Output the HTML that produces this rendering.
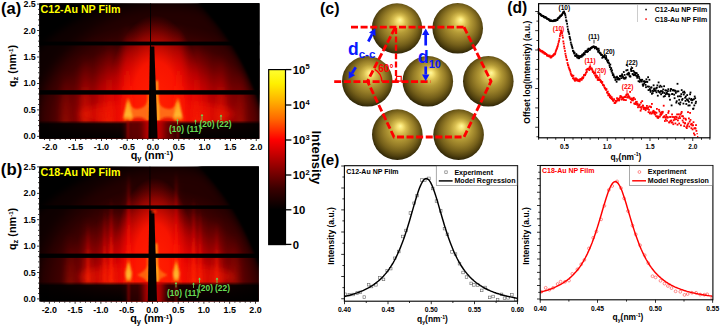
<!DOCTYPE html>
<html><head><meta charset="utf-8"><title>GISAXS figure</title>
<style>
html,body{margin:0;padding:0;background:#fff;}
body{width:721px;height:328px;overflow:hidden;}
svg{display:block;}
svg text{font-family:"Liberation Sans",Arial,sans-serif;font-weight:bold;}
</style></head><body>
<svg width="721" height="328" viewBox="0 0 721 328">
<rect width="721" height="328" fill="#fff"/>

<defs>
<filter id="b1" x="-20%" y="-20%" width="140%" height="140%"><feGaussianBlur stdDeviation="1"/></filter>
<filter id="b2" x="-30%" y="-30%" width="160%" height="160%"><feGaussianBlur stdDeviation="2"/></filter>
<filter id="b3" x="-50%" y="-50%" width="200%" height="200%"><feGaussianBlur stdDeviation="3.5"/></filter>
<filter id="b6" x="-50%" y="-50%" width="200%" height="200%"><feGaussianBlur stdDeviation="6"/></filter>
<filter id="bx" x="-400%" y="-10%" width="900%" height="120%"><feGaussianBlur stdDeviation="3 0.5"/></filter>
<filter id="bx1" x="-300%" y="-10%" width="700%" height="120%"><feGaussianBlur stdDeviation="1.1 0.8"/></filter>
<radialGradient id="glow" cx="0.5" cy="0.5" r="0.5">
 <stop offset="0" stop-color="#f80c00"/>
 <stop offset="0.2" stop-color="#ea0600"/>
 <stop offset="0.38" stop-color="#cc0000"/>
 <stop offset="0.54" stop-color="#a00000"/>
 <stop offset="0.68" stop-color="#6a0000"/>
 <stop offset="0.82" stop-color="#3e0000"/>
 <stop offset="0.93" stop-color="#2c0000"/>
 <stop offset="1" stop-color="#240000"/>
</radialGradient>
<radialGradient id="col" cx="0.5" cy="0.5" r="0.5">
 <stop offset="0" stop-color="#ff2000" stop-opacity="1"/>
 <stop offset="0.5" stop-color="#ff1600" stop-opacity="0.92"/>
 <stop offset="0.78" stop-color="#f40a00" stop-opacity="0.45"/>
 <stop offset="1" stop-color="#e00000" stop-opacity="0"/>
</radialGradient>
<radialGradient id="core" cx="0.5" cy="0.5" r="0.5">
 <stop offset="0" stop-color="#ff5a00" stop-opacity="1"/>
 <stop offset="0.6" stop-color="#ff3000" stop-opacity="0.8"/>
 <stop offset="1" stop-color="#ff1000" stop-opacity="0"/>
</radialGradient>
<linearGradient id="rod" x1="0" y1="1" x2="0" y2="0">
 <stop offset="0" stop-color="#ff2a00" stop-opacity="0.95"/>
 <stop offset="0.35" stop-color="#ff1800" stop-opacity="0.7"/>
 <stop offset="0.7" stop-color="#e00000" stop-opacity="0.35"/>
 <stop offset="1" stop-color="#c00000" stop-opacity="0"/>
</linearGradient>
<linearGradient id="spin" x1="0" y1="0" x2="0" y2="1">
 <stop offset="0" stop-color="#ff7000" stop-opacity="0"/>
 <stop offset="0.3" stop-color="#ffa018" stop-opacity="1"/>
 <stop offset="0.8" stop-color="#ffb830" stop-opacity="1"/>
 <stop offset="1" stop-color="#ff8000" stop-opacity="0.7"/>
</linearGradient>
<linearGradient id="cbar" x1="0" y1="1" x2="0" y2="0">
 <stop offset="0" stop-color="#000"/>
 <stop offset="0.2" stop-color="#000"/>
 <stop offset="0.32" stop-color="#3a0000"/>
 <stop offset="0.42" stop-color="#800000"/>
 <stop offset="0.52" stop-color="#c80000"/>
 <stop offset="0.6" stop-color="#ff0000"/>
 <stop offset="0.72" stop-color="#ff6a00"/>
 <stop offset="0.82" stop-color="#ffb000"/>
 <stop offset="0.92" stop-color="#fff000"/>
 <stop offset="1" stop-color="#ffff30"/>
</linearGradient>
<radialGradient id="gold" cx="0.51" cy="0.47" r="0.56" fx="0.56" fy="0.33">
 <stop offset="0" stop-color="#fff9a0"/>
 <stop offset="0.1" stop-color="#f6e274"/>
 <stop offset="0.22" stop-color="#d8be50"/>
 <stop offset="0.38" stop-color="#b49a36"/>
 <stop offset="0.56" stop-color="#957c27"/>
 <stop offset="0.72" stop-color="#745f1a"/>
 <stop offset="0.85" stop-color="#52420f"/>
 <stop offset="0.94" stop-color="#342a08"/>
 <stop offset="1" stop-color="#201a04"/>
</radialGradient>
<linearGradient id="horiz" x1="0" y1="0" x2="0" y2="1">
 <stop offset="0" stop-color="#000" stop-opacity="0"/>
 <stop offset="0.18" stop-color="#000" stop-opacity="0.9"/>
 <stop offset="1" stop-color="#000" stop-opacity="1"/>
</linearGradient>
</defs>

<clipPath id="hc1"><rect x="39.3" y="3.2" width="220.09999999999997" height="135.60000000000002"/></clipPath>
<g clip-path="url(#hc1)">
<rect x="39.3" y="3.2" width="220.09999999999997" height="135.60000000000002" fill="#240000"/>
<ellipse cx="157.0" cy="120.4" rx="132" ry="98" fill="url(#glow)"/>
<ellipse cx="157.0" cy="114.1" rx="78" ry="13" fill="#f01400" opacity="0.55" filter="url(#b3)"/>
<ellipse cx="155.0" cy="107.2" rx="48" ry="92" fill="url(#col)"/>
<rect x="124.2" y="23.1" width="6" height="100" fill="url(#rod)" opacity="1.0" filter="url(#bx)"/>
<rect x="175.8" y="23.1" width="6" height="100" fill="url(#rod)" opacity="1.0" filter="url(#bx)"/>
<rect x="106.1" y="38.1" width="6" height="85" fill="url(#rod)" opacity="0.8" filter="url(#bx)"/>
<rect x="193.9" y="38.1" width="6" height="85" fill="url(#rod)" opacity="0.8" filter="url(#bx)"/>
<rect x="99.4" y="43.1" width="4" height="80" fill="url(#rod)" opacity="0.6" filter="url(#bx)"/>
<rect x="202.6" y="43.1" width="4" height="80" fill="url(#rod)" opacity="0.6" filter="url(#bx)"/>
<rect x="80.9" y="53.1" width="8" height="70" fill="url(#rod)" opacity="0.55" filter="url(#bx)"/>
<rect x="217.1" y="53.1" width="8" height="70" fill="url(#rod)" opacity="0.55" filter="url(#bx)"/>
<rect x="61.3" y="68.1" width="8" height="55" fill="url(#rod)" opacity="0.3" filter="url(#bx)"/>
<rect x="236.7" y="68.1" width="8" height="55" fill="url(#rod)" opacity="0.3" filter="url(#bx)"/>
<path d="M128.0 97.2 C130.7 108.8 135.5 109.8 138.7 108.8 C145.2 107.8 149.5 102.8 149.5 87.2 L149.5 120.4 L128.0 120.4Z" fill="#ff6a12" opacity="1" filter="url(#b1)"/>
<ellipse cx="138.2" cy="121.4" rx="7.7" ry="4.2" fill="#e81000" opacity="0.9" filter="url(#b1)"/>
<path d="M178.0 97.2 C175.3 108.8 170.5 109.8 167.3 108.8 C160.8 107.8 156.5 102.8 156.5 87.2 L156.5 120.4 L178.0 120.4Z" fill="#ff6a12" opacity="1" filter="url(#b1)"/>
<ellipse cx="167.8" cy="121.4" rx="7.7" ry="4.2" fill="#e81000" opacity="0.9" filter="url(#b1)"/>
<path d="M128.0 96.1 Q130.4 107.0 132.8 118.0 L131.3 120.4 L124.6 120.4 L123.2 118.0 Q125.6 107.0 128.0 96.1Z" fill="url(#spin)" filter="url(#bx1)"/>
<path d="M178.0 96.1 Q180.4 107.0 182.8 118.0 L181.4 120.4 L174.7 120.4 L173.2 118.0 Q175.6 107.0 178.0 96.1Z" fill="url(#spin)" filter="url(#bx1)"/>
<path d="M155.9 80.8 L157.2 123.1 h1.8 L157.7 80.8Z" fill="#ffd820" filter="url(#bx1)"/>
<rect x="147.6" y="91.3" width="1.6" height="31.7" fill="#ff8a10" filter="url(#bx1)" opacity="0.85"/>
<rect x="39.3" y="120.4" width="220.09999999999997" height="19.4" fill="url(#horiz)"/>
<rect x="126.0" y="121.4" width="50" height="18.4" fill="#7a0000" opacity="0.75" filter="url(#bx)"/>
<rect x="144.0" y="120.4" width="20" height="18.4" fill="#d80000" opacity="0.8" filter="url(#bx)"/>
<rect x="127.0" y="120.4" width="2" height="18.4" fill="#b00000" opacity="0.7" filter="url(#bx1)"/>
<rect x="177.0" y="120.4" width="2" height="18.4" fill="#b00000" opacity="0.7" filter="url(#bx1)"/>
<path d="M20 -20 H280 V160 H20 Z M36 52 C50 36 78 16 112 5 C150 -3 185 -3 199 3.5 C228 34 248 66 262 112 V150 H36 Z" fill="#000" fill-rule="evenodd" filter="url(#b3)"/>
<path d="M199 3 C228 34 248 66 262 112 V-5 H199Z" fill="#000" filter="url(#b1)"/>
<path d="M20 -20 H280 V160 H20 Z M36 118 C40 70 80 26 130 12 C160 4 190 6 206 12 C236 40 256 80 266 122 V150 H36 Z" fill="#000" fill-rule="evenodd" opacity="0.6" filter="url(#b6)"/>
<rect x="39.3" y="41.6" width="220.09999999999997" height="3.799999999999997" fill="#000"/>
<rect x="39.3" y="90.2" width="220.09999999999997" height="4.3999999999999915" fill="#000"/>
<path d="M149.9 46.5 H154.3 L157.6 138.8 H148.4 Z" fill="#050000"/>
<rect x="150.1" y="3.2" width="0.9" height="135.60000000000002" fill="#000"/>
</g>
<clipPath id="hc2"><rect x="39.3" y="166.4" width="219.5" height="135.1"/></clipPath>
<g clip-path="url(#hc2)">
<rect x="39.3" y="166.4" width="219.5" height="135.1" fill="#240000"/>
<ellipse cx="156.4" cy="283.1" rx="118" ry="95" fill="url(#glow)"/>
<ellipse cx="156.4" cy="276.7" rx="78" ry="13" fill="#f01400" opacity="0.55" filter="url(#b3)"/>
<ellipse cx="154.4" cy="269.9" rx="42" ry="92" fill="url(#col)"/>
<rect x="126.7" y="175.7" width="3.5" height="110" fill="url(#rod)" opacity="1.0" filter="url(#bx)"/>
<rect x="174.6" y="175.7" width="3.5" height="110" fill="url(#rod)" opacity="1.0" filter="url(#bx)"/>
<rect x="126.9" y="215.7" width="3" height="70" fill="url(#rod)" opacity="1.0" filter="url(#bx)"/>
<rect x="174.9" y="215.7" width="3" height="70" fill="url(#rod)" opacity="1.0" filter="url(#bx)"/>
<rect x="108.2" y="200.7" width="6" height="85" fill="url(#rod)" opacity="0.8" filter="url(#bx)"/>
<rect x="190.6" y="200.7" width="6" height="85" fill="url(#rod)" opacity="0.8" filter="url(#bx)"/>
<rect x="102.5" y="205.7" width="4" height="80" fill="url(#rod)" opacity="0.6" filter="url(#bx)"/>
<rect x="198.3" y="205.7" width="4" height="80" fill="url(#rod)" opacity="0.6" filter="url(#bx)"/>
<rect x="84.0" y="215.7" width="8" height="70" fill="url(#rod)" opacity="0.55" filter="url(#bx)"/>
<rect x="212.8" y="215.7" width="8" height="70" fill="url(#rod)" opacity="0.55" filter="url(#bx)"/>
<rect x="65.9" y="230.7" width="8" height="55" fill="url(#rod)" opacity="0.3" filter="url(#bx)"/>
<rect x="230.9" y="230.7" width="8" height="55" fill="url(#rod)" opacity="0.3" filter="url(#bx)"/>
<rect x="127.3" y="169.7" width="2.6" height="112" fill="url(#rod)" opacity="1.0" filter="url(#bx1)"/>
<rect x="174.9" y="169.7" width="2.6" height="112" fill="url(#rod)" opacity="1.0" filter="url(#bx1)"/>
<rect x="109.9" y="196.7" width="2.6" height="85" fill="url(#rod)" opacity="0.85" filter="url(#bx1)"/>
<rect x="192.3" y="196.7" width="2.6" height="85" fill="url(#rod)" opacity="0.85" filter="url(#bx1)"/>
<rect x="103.4" y="206.7" width="2.2" height="75" fill="url(#rod)" opacity="0.7" filter="url(#bx1)"/>
<rect x="199.2" y="206.7" width="2.2" height="75" fill="url(#rod)" opacity="0.7" filter="url(#bx1)"/>
<rect x="86.5" y="221.7" width="3" height="60" fill="url(#rod)" opacity="0.5" filter="url(#bx1)"/>
<rect x="215.3" y="221.7" width="3" height="60" fill="url(#rod)" opacity="0.5" filter="url(#bx1)"/>
<path d="M128.6 257.7 Q130.2 265.4 131.8 273.1 L130.8 281.7 L126.3 281.7 L125.4 273.1 Q127.0 265.4 128.6 257.7Z" fill="url(#spin)" filter="url(#bx1)"/>
<path d="M176.2 257.7 Q177.8 265.4 179.4 273.1 L178.5 281.7 L174.0 281.7 L173.0 273.1 Q174.6 265.4 176.2 257.7Z" fill="url(#spin)" filter="url(#bx1)"/>
<path d="M149.2 264.1 Q144.4 272.1 137.2 275.1 Q144.4 278.1 149.2 282.5Z" fill="#ff6a10" opacity="0.9" filter="url(#b1)"/>
<path d="M155.6 264.1 Q160.4 272.1 167.6 275.1 Q160.4 278.1 155.6 282.5Z" fill="#ff6a10" opacity="0.9" filter="url(#b1)"/>
<path d="M155.3 243.5 L156.6 285.7 h1.8 L157.1 243.5Z" fill="#ffd820" filter="url(#bx1)"/>
<rect x="147.0" y="254.0" width="1.6" height="31.7" fill="#ff8a10" filter="url(#bx1)" opacity="0.85"/>
<rect x="39.3" y="281.7" width="219.5" height="20.8" fill="url(#horiz)"/>
<rect x="126.4" y="282.7" width="48" height="19.8" fill="#7a0000" opacity="0.3" filter="url(#bx)"/>
<rect x="143.4" y="281.7" width="20" height="19.8" fill="#d80000" opacity="0.8" filter="url(#bx)"/>
<rect x="127.6" y="281.7" width="2" height="19.8" fill="#b00000" opacity="0.7" filter="url(#bx1)"/>
<rect x="175.2" y="281.7" width="2" height="19.8" fill="#b00000" opacity="0.7" filter="url(#bx1)"/>
<path d="M20 140 H280 V330 H20 Z M36 215 C50 199 78 179 112 168 C150 160 185 160 199 166.5 C228 197 248 229 262 275 V315 H36 Z" fill="#000" fill-rule="evenodd" filter="url(#b3)"/>
<path d="M199 166 C228 197 248 229 262 275 V158 H199Z" fill="#000" filter="url(#b1)"/>
<path d="M20 140 H280 V330 H20 Z M36 281 C40 233 80 189 130 175 C160 167 190 169 206 175 C236 203 256 243 266 285 V315 H36 Z" fill="#000" fill-rule="evenodd" opacity="0.6" filter="url(#b6)"/>
<rect x="39.3" y="205.4" width="219.5" height="3.5" fill="#000"/>
<rect x="39.3" y="253.6" width="219.5" height="4.299999999999983" fill="#000"/>
<path d="M149.3 210.4 H154.3 L157.0 301.5 H147.8 Z" fill="#050000"/>
<ellipse cx="154.0" cy="211.6" rx="2.6" ry="1.5" fill="#ff3000" filter="url(#bx1)"/>
<rect x="149.5" y="166.4" width="0.9" height="135.1" fill="#000"/>
</g>
<rect x="44.2" y="138.8" width="0.8" height="1.2" fill="#000"/>
<rect x="49.4" y="138.8" width="0.8" height="2.2" fill="#000"/>
<rect x="54.6" y="138.8" width="0.8" height="1.2" fill="#000"/>
<rect x="59.7" y="138.8" width="0.8" height="1.2" fill="#000"/>
<rect x="64.9" y="138.8" width="0.8" height="1.2" fill="#000"/>
<rect x="70.0" y="138.8" width="0.8" height="1.2" fill="#000"/>
<rect x="75.2" y="138.8" width="0.8" height="2.2" fill="#000"/>
<rect x="80.4" y="138.8" width="0.8" height="1.2" fill="#000"/>
<rect x="85.5" y="138.8" width="0.8" height="1.2" fill="#000"/>
<rect x="90.7" y="138.8" width="0.8" height="1.2" fill="#000"/>
<rect x="95.8" y="138.8" width="0.8" height="1.2" fill="#000"/>
<rect x="101.0" y="138.8" width="0.8" height="2.2" fill="#000"/>
<rect x="106.2" y="138.8" width="0.8" height="1.2" fill="#000"/>
<rect x="111.3" y="138.8" width="0.8" height="1.2" fill="#000"/>
<rect x="116.5" y="138.8" width="0.8" height="1.2" fill="#000"/>
<rect x="121.6" y="138.8" width="0.8" height="1.2" fill="#000"/>
<rect x="126.8" y="138.8" width="0.8" height="2.2" fill="#000"/>
<rect x="132.0" y="138.8" width="0.8" height="1.2" fill="#000"/>
<rect x="137.1" y="138.8" width="0.8" height="1.2" fill="#000"/>
<rect x="142.3" y="138.8" width="0.8" height="1.2" fill="#000"/>
<rect x="147.4" y="138.8" width="0.8" height="1.2" fill="#000"/>
<rect x="152.6" y="138.8" width="0.8" height="2.2" fill="#000"/>
<rect x="157.8" y="138.8" width="0.8" height="1.2" fill="#000"/>
<rect x="162.9" y="138.8" width="0.8" height="1.2" fill="#000"/>
<rect x="168.1" y="138.8" width="0.8" height="1.2" fill="#000"/>
<rect x="173.2" y="138.8" width="0.8" height="1.2" fill="#000"/>
<rect x="178.4" y="138.8" width="0.8" height="2.2" fill="#000"/>
<rect x="183.6" y="138.8" width="0.8" height="1.2" fill="#000"/>
<rect x="188.7" y="138.8" width="0.8" height="1.2" fill="#000"/>
<rect x="193.9" y="138.8" width="0.8" height="1.2" fill="#000"/>
<rect x="199.0" y="138.8" width="0.8" height="1.2" fill="#000"/>
<rect x="204.2" y="138.8" width="0.8" height="2.2" fill="#000"/>
<rect x="209.4" y="138.8" width="0.8" height="1.2" fill="#000"/>
<rect x="214.5" y="138.8" width="0.8" height="1.2" fill="#000"/>
<rect x="219.7" y="138.8" width="0.8" height="1.2" fill="#000"/>
<rect x="224.8" y="138.8" width="0.8" height="1.2" fill="#000"/>
<rect x="230.0" y="138.8" width="0.8" height="2.2" fill="#000"/>
<rect x="235.2" y="138.8" width="0.8" height="1.2" fill="#000"/>
<rect x="240.3" y="138.8" width="0.8" height="1.2" fill="#000"/>
<rect x="245.5" y="138.8" width="0.8" height="1.2" fill="#000"/>
<rect x="250.6" y="138.8" width="0.8" height="1.2" fill="#000"/>
<rect x="255.8" y="138.8" width="0.8" height="2.2" fill="#000"/>
<rect x="37.099999999999994" y="135.9" width="2.2" height="0.8" fill="#000"/>
<rect x="38.099999999999994" y="130.6" width="1.2" height="0.8" fill="#000"/>
<rect x="38.099999999999994" y="125.3" width="1.2" height="0.8" fill="#000"/>
<rect x="38.099999999999994" y="120.0" width="1.2" height="0.8" fill="#000"/>
<rect x="38.099999999999994" y="114.7" width="1.2" height="0.8" fill="#000"/>
<rect x="37.099999999999994" y="109.5" width="2.2" height="0.8" fill="#000"/>
<rect x="38.099999999999994" y="104.2" width="1.2" height="0.8" fill="#000"/>
<rect x="38.099999999999994" y="98.9" width="1.2" height="0.8" fill="#000"/>
<rect x="38.099999999999994" y="93.6" width="1.2" height="0.8" fill="#000"/>
<rect x="38.099999999999994" y="88.3" width="1.2" height="0.8" fill="#000"/>
<rect x="37.099999999999994" y="83.0" width="2.2" height="0.8" fill="#000"/>
<rect x="38.099999999999994" y="77.7" width="1.2" height="0.8" fill="#000"/>
<rect x="38.099999999999994" y="72.4" width="1.2" height="0.8" fill="#000"/>
<rect x="38.099999999999994" y="67.1" width="1.2" height="0.8" fill="#000"/>
<rect x="38.099999999999994" y="61.8" width="1.2" height="0.8" fill="#000"/>
<rect x="37.099999999999994" y="56.6" width="2.2" height="0.8" fill="#000"/>
<rect x="38.099999999999994" y="51.3" width="1.2" height="0.8" fill="#000"/>
<rect x="38.099999999999994" y="46.0" width="1.2" height="0.8" fill="#000"/>
<rect x="38.099999999999994" y="40.7" width="1.2" height="0.8" fill="#000"/>
<rect x="38.099999999999994" y="35.4" width="1.2" height="0.8" fill="#000"/>
<rect x="37.099999999999994" y="30.1" width="2.2" height="0.8" fill="#000"/>
<rect x="38.099999999999994" y="24.8" width="1.2" height="0.8" fill="#000"/>
<rect x="38.099999999999994" y="19.5" width="1.2" height="0.8" fill="#000"/>
<rect x="38.099999999999994" y="14.2" width="1.2" height="0.8" fill="#000"/>
<rect x="38.099999999999994" y="8.9" width="1.2" height="0.8" fill="#000"/>
<rect x="37.099999999999994" y="3.7" width="2.2" height="0.8" fill="#000"/>
<text x="49.8" y="149.7" font-size="8.9" fill="#000" text-anchor="middle" >-2.0</text>
<text x="75.6" y="149.7" font-size="8.9" fill="#000" text-anchor="middle" >-1.5</text>
<text x="101.4" y="149.7" font-size="8.9" fill="#000" text-anchor="middle" >-1.0</text>
<text x="127.2" y="149.7" font-size="8.9" fill="#000" text-anchor="middle" >-0.5</text>
<text x="153.0" y="149.7" font-size="8.9" fill="#000" text-anchor="middle" >0.0</text>
<text x="178.8" y="149.7" font-size="8.9" fill="#000" text-anchor="middle" >0.5</text>
<text x="204.6" y="149.7" font-size="8.9" fill="#000" text-anchor="middle" >1.0</text>
<text x="230.4" y="149.7" font-size="8.9" fill="#000" text-anchor="middle" >1.5</text>
<text x="256.2" y="149.7" font-size="8.9" fill="#000" text-anchor="middle" >2.0</text>
<text x="35.8" y="139.3" font-size="8.9" fill="#000" text-anchor="end" >0.0</text>
<text x="35.8" y="112.9" font-size="8.9" fill="#000" text-anchor="end" >0.5</text>
<text x="35.8" y="86.4" font-size="8.9" fill="#000" text-anchor="end" >1.0</text>
<text x="35.8" y="60.0" font-size="8.9" fill="#000" text-anchor="end" >1.5</text>
<text x="35.8" y="33.5" font-size="8.9" fill="#000" text-anchor="end" >2.0</text>
<text x="35.8" y="7.1" font-size="8.9" fill="#000" text-anchor="end" >2.5</text>
<text x="152.0" y="158.89999999999998" font-size="10.8" text-anchor="middle">q<tspan font-size="7.5" dy="2">y</tspan><tspan dy="-2"> (nm</tspan><tspan font-size="6" dy="-3.5">-1</tspan><tspan dy="3.5">)</tspan></text>
<text transform="translate(16 66.0) rotate(-90)" font-size="10.8" text-anchor="middle">q<tspan font-size="7.5" dy="2">z</tspan><tspan dy="-2"> (nm</tspan><tspan font-size="6" dy="-3.5">-1</tspan><tspan dy="3.5">)</tspan></text>
<text x="40.5" y="12.5" font-size="10.7" fill="#ffff00" text-anchor="start" >C12-Au NP Film</text>
<text x="1.0" y="13.6" font-size="16.5" fill="#000" text-anchor="start" >(a)</text>
<text x="176.5" y="132" font-size="8.4" fill="#66dd55" text-anchor="middle" >(10)</text>
<path d="M177.5 124.5 V119.5" stroke="#66dd55" stroke-width="0.8"/><path d="M176.2 121.1 L177.5 118.9 L178.8 121.1Z" fill="#66dd55"/>
<text x="194" y="132" font-size="8.4" fill="#66dd55" text-anchor="middle" >(11)</text>
<path d="M195.5 124.5 V120" stroke="#66dd55" stroke-width="0.8"/><path d="M194.2 121.6 L195.5 119.4 L196.8 121.6Z" fill="#66dd55"/>
<text x="207" y="127.3" font-size="8.4" fill="#66dd55" text-anchor="middle" >(20)</text>
<path d="M202 120 V114.5" stroke="#66dd55" stroke-width="0.8"/><path d="M200.7 116.1 L202 113.9 L203.3 116.1Z" fill="#66dd55"/>
<text x="224" y="127.3" font-size="8.4" fill="#66dd55" text-anchor="middle" >(22)</text>
<path d="M221 120 V115" stroke="#66dd55" stroke-width="0.8"/><path d="M219.7 116.6 L221 114.4 L222.3 116.6Z" fill="#66dd55"/>
<rect x="43.7" y="301.5" width="0.8" height="1.2" fill="#000"/>
<rect x="48.9" y="301.5" width="0.8" height="2.2" fill="#000"/>
<rect x="54.1" y="301.5" width="0.8" height="1.2" fill="#000"/>
<rect x="59.2" y="301.5" width="0.8" height="1.2" fill="#000"/>
<rect x="64.4" y="301.5" width="0.8" height="1.2" fill="#000"/>
<rect x="69.5" y="301.5" width="0.8" height="1.2" fill="#000"/>
<rect x="74.7" y="301.5" width="0.8" height="2.2" fill="#000"/>
<rect x="79.8" y="301.5" width="0.8" height="1.2" fill="#000"/>
<rect x="85.0" y="301.5" width="0.8" height="1.2" fill="#000"/>
<rect x="90.1" y="301.5" width="0.8" height="1.2" fill="#000"/>
<rect x="95.3" y="301.5" width="0.8" height="1.2" fill="#000"/>
<rect x="100.5" y="301.5" width="0.8" height="2.2" fill="#000"/>
<rect x="105.6" y="301.5" width="0.8" height="1.2" fill="#000"/>
<rect x="110.8" y="301.5" width="0.8" height="1.2" fill="#000"/>
<rect x="115.9" y="301.5" width="0.8" height="1.2" fill="#000"/>
<rect x="121.1" y="301.5" width="0.8" height="1.2" fill="#000"/>
<rect x="126.2" y="301.5" width="0.8" height="2.2" fill="#000"/>
<rect x="131.4" y="301.5" width="0.8" height="1.2" fill="#000"/>
<rect x="136.5" y="301.5" width="0.8" height="1.2" fill="#000"/>
<rect x="141.7" y="301.5" width="0.8" height="1.2" fill="#000"/>
<rect x="146.8" y="301.5" width="0.8" height="1.2" fill="#000"/>
<rect x="152.0" y="301.5" width="0.8" height="2.2" fill="#000"/>
<rect x="157.2" y="301.5" width="0.8" height="1.2" fill="#000"/>
<rect x="162.3" y="301.5" width="0.8" height="1.2" fill="#000"/>
<rect x="167.5" y="301.5" width="0.8" height="1.2" fill="#000"/>
<rect x="172.6" y="301.5" width="0.8" height="1.2" fill="#000"/>
<rect x="177.8" y="301.5" width="0.8" height="2.2" fill="#000"/>
<rect x="182.9" y="301.5" width="0.8" height="1.2" fill="#000"/>
<rect x="188.1" y="301.5" width="0.8" height="1.2" fill="#000"/>
<rect x="193.2" y="301.5" width="0.8" height="1.2" fill="#000"/>
<rect x="198.4" y="301.5" width="0.8" height="1.2" fill="#000"/>
<rect x="203.5" y="301.5" width="0.8" height="2.2" fill="#000"/>
<rect x="208.7" y="301.5" width="0.8" height="1.2" fill="#000"/>
<rect x="213.9" y="301.5" width="0.8" height="1.2" fill="#000"/>
<rect x="219.0" y="301.5" width="0.8" height="1.2" fill="#000"/>
<rect x="224.2" y="301.5" width="0.8" height="1.2" fill="#000"/>
<rect x="229.3" y="301.5" width="0.8" height="2.2" fill="#000"/>
<rect x="234.5" y="301.5" width="0.8" height="1.2" fill="#000"/>
<rect x="239.6" y="301.5" width="0.8" height="1.2" fill="#000"/>
<rect x="244.8" y="301.5" width="0.8" height="1.2" fill="#000"/>
<rect x="249.9" y="301.5" width="0.8" height="1.2" fill="#000"/>
<rect x="255.1" y="301.5" width="0.8" height="2.2" fill="#000"/>
<rect x="37.099999999999994" y="298.5" width="2.2" height="0.8" fill="#000"/>
<rect x="38.099999999999994" y="293.2" width="1.2" height="0.8" fill="#000"/>
<rect x="38.099999999999994" y="287.9" width="1.2" height="0.8" fill="#000"/>
<rect x="38.099999999999994" y="282.7" width="1.2" height="0.8" fill="#000"/>
<rect x="38.099999999999994" y="277.4" width="1.2" height="0.8" fill="#000"/>
<rect x="37.099999999999994" y="272.1" width="2.2" height="0.8" fill="#000"/>
<rect x="38.099999999999994" y="266.8" width="1.2" height="0.8" fill="#000"/>
<rect x="38.099999999999994" y="261.5" width="1.2" height="0.8" fill="#000"/>
<rect x="38.099999999999994" y="256.3" width="1.2" height="0.8" fill="#000"/>
<rect x="38.099999999999994" y="251.0" width="1.2" height="0.8" fill="#000"/>
<rect x="37.099999999999994" y="245.7" width="2.2" height="0.8" fill="#000"/>
<rect x="38.099999999999994" y="240.4" width="1.2" height="0.8" fill="#000"/>
<rect x="38.099999999999994" y="235.1" width="1.2" height="0.8" fill="#000"/>
<rect x="38.099999999999994" y="229.9" width="1.2" height="0.8" fill="#000"/>
<rect x="38.099999999999994" y="224.6" width="1.2" height="0.8" fill="#000"/>
<rect x="37.099999999999994" y="219.3" width="2.2" height="0.8" fill="#000"/>
<rect x="38.099999999999994" y="214.0" width="1.2" height="0.8" fill="#000"/>
<rect x="38.099999999999994" y="208.7" width="1.2" height="0.8" fill="#000"/>
<rect x="38.099999999999994" y="203.5" width="1.2" height="0.8" fill="#000"/>
<rect x="38.099999999999994" y="198.2" width="1.2" height="0.8" fill="#000"/>
<rect x="37.099999999999994" y="192.9" width="2.2" height="0.8" fill="#000"/>
<rect x="38.099999999999994" y="187.6" width="1.2" height="0.8" fill="#000"/>
<rect x="38.099999999999994" y="182.3" width="1.2" height="0.8" fill="#000"/>
<rect x="38.099999999999994" y="177.1" width="1.2" height="0.8" fill="#000"/>
<rect x="38.099999999999994" y="171.8" width="1.2" height="0.8" fill="#000"/>
<rect x="37.099999999999994" y="166.5" width="2.2" height="0.8" fill="#000"/>
<text x="49.3" y="312.8" font-size="8.9" fill="#000" text-anchor="middle" >-2.0</text>
<text x="75.1" y="312.8" font-size="8.9" fill="#000" text-anchor="middle" >-1.5</text>
<text x="100.9" y="312.8" font-size="8.9" fill="#000" text-anchor="middle" >-1.0</text>
<text x="126.6" y="312.8" font-size="8.9" fill="#000" text-anchor="middle" >-0.5</text>
<text x="152.4" y="312.8" font-size="8.9" fill="#000" text-anchor="middle" >0.0</text>
<text x="178.2" y="312.8" font-size="8.9" fill="#000" text-anchor="middle" >0.5</text>
<text x="203.9" y="312.8" font-size="8.9" fill="#000" text-anchor="middle" >1.0</text>
<text x="229.7" y="312.8" font-size="8.9" fill="#000" text-anchor="middle" >1.5</text>
<text x="255.5" y="312.8" font-size="8.9" fill="#000" text-anchor="middle" >2.0</text>
<text x="35.8" y="301.9" font-size="8.9" fill="#000" text-anchor="end" >0.0</text>
<text x="35.8" y="275.5" font-size="8.9" fill="#000" text-anchor="end" >0.5</text>
<text x="35.8" y="249.1" font-size="8.9" fill="#000" text-anchor="end" >1.0</text>
<text x="35.8" y="222.7" font-size="8.9" fill="#000" text-anchor="end" >1.5</text>
<text x="35.8" y="196.3" font-size="8.9" fill="#000" text-anchor="end" >2.0</text>
<text x="35.8" y="169.9" font-size="8.9" fill="#000" text-anchor="end" >2.5</text>
<text x="151.4" y="322.0" font-size="10.8" text-anchor="middle">q<tspan font-size="7.5" dy="2">y</tspan><tspan dy="-2"> (nm</tspan><tspan font-size="6" dy="-3.5">-1</tspan><tspan dy="3.5">)</tspan></text>
<text transform="translate(16 228.95) rotate(-90)" font-size="10.8" text-anchor="middle">q<tspan font-size="7.5" dy="2">z</tspan><tspan dy="-2"> (nm</tspan><tspan font-size="6" dy="-3.5">-1</tspan><tspan dy="3.5">)</tspan></text>
<text x="40.5" y="175.70000000000002" font-size="10.7" fill="#ffff00" text-anchor="start" >C18-Au NP Film</text>
<text x="0.8" y="175.2" font-size="16.8" fill="#000" text-anchor="start" >(b)</text>
<text x="174.5" y="295.5" font-size="8.4" fill="#66dd55" text-anchor="middle" >(10)</text>
<path d="M176 287.5 V282.5" stroke="#66dd55" stroke-width="0.8"/><path d="M174.7 284.1 L176 281.9 L177.3 284.1Z" fill="#66dd55"/>
<text x="192" y="295.5" font-size="8.4" fill="#66dd55" text-anchor="middle" >(11)</text>
<path d="M193.5 288 V283" stroke="#66dd55" stroke-width="0.8"/><path d="M192.2 284.6 L193.5 282.4 L194.8 284.6Z" fill="#66dd55"/>
<text x="205.5" y="290.5" font-size="8.4" fill="#66dd55" text-anchor="middle" >(20)</text>
<path d="M199.5 283 V278" stroke="#66dd55" stroke-width="0.8"/><path d="M198.2 279.6 L199.5 277.4 L200.8 279.6Z" fill="#66dd55"/>
<text x="222.5" y="290.5" font-size="8.4" fill="#66dd55" text-anchor="middle" >(22)</text>
<path d="M217 283 V278" stroke="#66dd55" stroke-width="0.8"/><path d="M215.7 279.6 L217 277.4 L218.3 279.6Z" fill="#66dd55"/>
<rect x="268.7" y="69.6" width="16.8" height="175" fill="url(#cbar)" stroke="#000" stroke-width="1.2"/>
<rect x="286" y="68.94999999999999" width="5.4" height="1.3" fill="#000"/>
<text x="292.8" y="73.69999999999999" font-size="11.3">10<tspan font-size="7.5" dy="-4.5">5</tspan></text>
<rect x="286" y="104.35" width="5.4" height="1.3" fill="#000"/>
<text x="292.8" y="109.1" font-size="11.3">10<tspan font-size="7.5" dy="-4.5">4</tspan></text>
<rect x="286" y="139.35" width="5.4" height="1.3" fill="#000"/>
<text x="292.8" y="144.1" font-size="11.3">10<tspan font-size="7.5" dy="-4.5">3</tspan></text>
<rect x="286" y="174.35" width="5.4" height="1.3" fill="#000"/>
<text x="292.8" y="179.1" font-size="11.3">10<tspan font-size="7.5" dy="-4.5">2</tspan></text>
<rect x="286" y="209.15" width="5.4" height="1.3" fill="#000"/>
<text x="292.8" y="213.9" font-size="11.3">10</text>
<rect x="286" y="243.75" width="5.4" height="1.3" fill="#000"/>
<text x="292.8" y="248.5" font-size="11.3">0</text>
<text transform="translate(311.6 157.4) rotate(90)" font-size="13.1" text-anchor="middle">Intensity</text>
<text x="320" y="13.8" font-size="16" fill="#000" text-anchor="start" >(c)</text>
<circle cx="397" cy="28.5" r="25.3" fill="url(#gold)"/>
<circle cx="457.7" cy="28.3" r="25.3" fill="url(#gold)"/>
<circle cx="367.3" cy="81.3" r="25.3" fill="url(#gold)"/>
<circle cx="427.8" cy="81.3" r="25.3" fill="url(#gold)"/>
<circle cx="488.3" cy="81.3" r="25.3" fill="url(#gold)"/>
<circle cx="397.3" cy="134.6" r="25.3" fill="url(#gold)"/>
<circle cx="458.6" cy="134.6" r="25.3" fill="url(#gold)"/>
<g stroke="#ff0000" stroke-width="2.8" fill="none">
<path d="M351 27.2 H464" stroke-dasharray="7 2.6"/>
<path d="M334.2 81.6 H430.5" stroke-dasharray="7 2.6"/>
<path d="M464 27.2 L491 81.3 L464 137 H394 L367.5 81.3 L395 27.9" stroke-dasharray="7 2.6"/>
<path d="M396 28 V81" stroke-width="2.3" stroke-dasharray="6 2.4"/>
<rect x="396.5" y="76.4" width="4.7" height="4.7" stroke-width="1.2"/>
<path d="M374.7 69.4 A14.2 14.2 0 0 1 381.8 81.6" stroke-width="1.3"/>
</g>
<text x="378.3" y="71.8" font-size="10" fill="#ff0000" text-anchor="start" >60°</text>
<text x="348" y="55.2" font-size="17.5" fill="#0a18ff">d<tspan font-size="11.5" dy="3.2">c-c</tspan></text>
<text x="418" y="63.3" font-size="17.5" fill="#0a18ff">d<tspan font-size="11" dy="4.2">10</tspan></text>
<path d="M368.3 41.5 L372.2 34.2" stroke="#0a18ff" stroke-width="2.7"/><path d="M375.3 28.5 L375.5 36.0 L369.0 32.5Z" fill="#0a18ff"/>
<path d="M355.7 67.2 L352.0 73.3" stroke="#0a18ff" stroke-width="2.7"/><path d="M348.6 78.8 L348.8 71.3 L355.1 75.2Z" fill="#0a18ff"/>
<path d="M425.7 45.5 L425.7 35.0" stroke="#0a18ff" stroke-width="2.7"/><path d="M425.7 28.5 L429.4 35.0 L422.0 35.0Z" fill="#0a18ff"/>
<path d="M425.7 66.5 L425.7 74.5" stroke="#0a18ff" stroke-width="2.7"/><path d="M425.7 81.0 L422.0 74.5 L429.4 74.5Z" fill="#0a18ff"/>
<g fill="#000">
<rect x="537.6" y="12.2" width="1.8" height="1.8"/>
<rect x="538.0" y="12.8" width="1.8" height="1.8"/>
<rect x="538.4" y="12.8" width="1.8" height="1.8"/>
<rect x="538.9" y="13.0" width="1.8" height="1.8"/>
<rect x="539.3" y="13.1" width="1.8" height="1.8"/>
<rect x="539.7" y="13.6" width="1.8" height="1.8"/>
<rect x="540.1" y="14.4" width="1.8" height="1.8"/>
<rect x="540.5" y="14.4" width="1.8" height="1.8"/>
<rect x="541.0" y="14.9" width="1.8" height="1.8"/>
<rect x="541.4" y="14.9" width="1.8" height="1.8"/>
<rect x="541.8" y="15.2" width="1.8" height="1.8"/>
<rect x="542.2" y="15.4" width="1.8" height="1.8"/>
<rect x="542.6" y="15.1" width="1.8" height="1.8"/>
<rect x="543.1" y="16.2" width="1.8" height="1.8"/>
<rect x="543.5" y="16.4" width="1.8" height="1.8"/>
<rect x="543.9" y="16.6" width="1.8" height="1.8"/>
<rect x="544.3" y="16.1" width="1.8" height="1.8"/>
<rect x="544.7" y="16.3" width="1.8" height="1.8"/>
<rect x="545.2" y="16.8" width="1.8" height="1.8"/>
<rect x="545.6" y="17.2" width="1.8" height="1.8"/>
<rect x="546.0" y="17.7" width="1.8" height="1.8"/>
<rect x="546.4" y="17.8" width="1.8" height="1.8"/>
<rect x="546.8" y="18.2" width="1.8" height="1.8"/>
<rect x="547.3" y="18.0" width="1.8" height="1.8"/>
<rect x="547.7" y="18.6" width="1.8" height="1.8"/>
<rect x="548.1" y="18.9" width="1.8" height="1.8"/>
<rect x="548.5" y="18.7" width="1.8" height="1.8"/>
<rect x="548.9" y="19.8" width="1.8" height="1.8"/>
<rect x="549.4" y="19.6" width="1.8" height="1.8"/>
<rect x="549.8" y="20.0" width="1.8" height="1.8"/>
<rect x="550.2" y="19.6" width="1.8" height="1.8"/>
<rect x="550.6" y="19.8" width="1.8" height="1.8"/>
<rect x="551.0" y="20.1" width="1.8" height="1.8"/>
<rect x="551.5" y="20.2" width="1.8" height="1.8"/>
<rect x="551.9" y="20.3" width="1.8" height="1.8"/>
<rect x="552.3" y="20.1" width="1.8" height="1.8"/>
<rect x="552.7" y="19.8" width="1.8" height="1.8"/>
<rect x="553.1" y="19.5" width="1.8" height="1.8"/>
<rect x="553.6" y="19.5" width="1.8" height="1.8"/>
<rect x="554.0" y="20.0" width="1.8" height="1.8"/>
<rect x="554.4" y="19.2" width="1.8" height="1.8"/>
<rect x="554.8" y="19.5" width="1.8" height="1.8"/>
<rect x="555.2" y="19.5" width="1.8" height="1.8"/>
<rect x="555.7" y="18.7" width="1.8" height="1.8"/>
<rect x="556.1" y="19.0" width="1.8" height="1.8"/>
<rect x="556.5" y="19.1" width="1.8" height="1.8"/>
<rect x="556.9" y="17.5" width="1.8" height="1.8"/>
<rect x="557.3" y="17.6" width="1.8" height="1.8"/>
<rect x="557.8" y="17.2" width="1.8" height="1.8"/>
<rect x="558.2" y="16.5" width="1.8" height="1.8"/>
<rect x="558.6" y="16.5" width="1.8" height="1.8"/>
<rect x="559.0" y="15.8" width="1.8" height="1.8"/>
<rect x="559.4" y="14.8" width="1.8" height="1.8"/>
<rect x="559.9" y="15.2" width="1.8" height="1.8"/>
<rect x="560.3" y="14.6" width="1.8" height="1.8"/>
<rect x="560.7" y="14.2" width="1.8" height="1.8"/>
<rect x="561.1" y="13.8" width="1.8" height="1.8"/>
<rect x="561.5" y="12.9" width="1.8" height="1.8"/>
<rect x="562.0" y="12.2" width="1.8" height="1.8"/>
<rect x="562.4" y="11.2" width="1.8" height="1.8"/>
<rect x="562.8" y="11.4" width="1.8" height="1.8"/>
<rect x="563.2" y="11.1" width="1.8" height="1.8"/>
<rect x="563.6" y="12.1" width="1.8" height="1.8"/>
<rect x="564.1" y="13.1" width="1.8" height="1.8"/>
<rect x="564.5" y="14.5" width="1.8" height="1.8"/>
<rect x="564.9" y="16.5" width="1.8" height="1.8"/>
<rect x="565.3" y="19.4" width="1.8" height="1.8"/>
<rect x="565.7" y="20.5" width="1.8" height="1.8"/>
<rect x="566.2" y="22.9" width="1.8" height="1.8"/>
<rect x="566.6" y="25.7" width="1.8" height="1.8"/>
<rect x="567.0" y="28.4" width="1.8" height="1.8"/>
<rect x="567.4" y="30.3" width="1.8" height="1.8"/>
<rect x="567.8" y="31.5" width="1.8" height="1.8"/>
<rect x="568.3" y="33.1" width="1.8" height="1.8"/>
<rect x="568.7" y="35.9" width="1.8" height="1.8"/>
<rect x="569.1" y="37.3" width="1.8" height="1.8"/>
<rect x="569.5" y="39.0" width="1.8" height="1.8"/>
<rect x="569.9" y="41.6" width="1.8" height="1.8"/>
<rect x="570.4" y="43.4" width="1.8" height="1.8"/>
<rect x="570.8" y="44.6" width="1.8" height="1.8"/>
<rect x="571.2" y="46.0" width="1.8" height="1.8"/>
<rect x="571.6" y="47.3" width="1.8" height="1.8"/>
<rect x="572.0" y="49.8" width="1.8" height="1.8"/>
<rect x="572.5" y="50.2" width="1.8" height="1.8"/>
<rect x="572.9" y="51.4" width="1.8" height="1.8"/>
<rect x="573.3" y="52.6" width="1.8" height="1.8"/>
<rect x="573.7" y="51.8" width="1.8" height="1.8"/>
<rect x="574.1" y="54.7" width="1.8" height="1.8"/>
<rect x="574.6" y="54.9" width="1.8" height="1.8"/>
<rect x="575.0" y="54.9" width="1.8" height="1.8"/>
<rect x="575.4" y="53.2" width="1.8" height="1.8"/>
<rect x="575.8" y="54.8" width="1.8" height="1.8"/>
<rect x="576.2" y="56.5" width="1.8" height="1.8"/>
<rect x="576.7" y="54.6" width="1.8" height="1.8"/>
<rect x="577.1" y="56.3" width="1.8" height="1.8"/>
<rect x="577.5" y="57.3" width="1.8" height="1.8"/>
<rect x="577.9" y="55.1" width="1.8" height="1.8"/>
<rect x="578.3" y="57.3" width="1.8" height="1.8"/>
<rect x="578.8" y="56.2" width="1.8" height="1.8"/>
<rect x="579.2" y="55.4" width="1.8" height="1.8"/>
<rect x="579.6" y="55.6" width="1.8" height="1.8"/>
<rect x="580.0" y="55.7" width="1.8" height="1.8"/>
<rect x="580.4" y="55.0" width="1.8" height="1.8"/>
<rect x="580.9" y="55.7" width="1.8" height="1.8"/>
<rect x="581.3" y="53.9" width="1.8" height="1.8"/>
<rect x="581.7" y="53.7" width="1.8" height="1.8"/>
<rect x="582.1" y="54.6" width="1.8" height="1.8"/>
<rect x="582.5" y="53.3" width="1.8" height="1.8"/>
<rect x="583.0" y="52.2" width="1.8" height="1.8"/>
<rect x="583.4" y="53.4" width="1.8" height="1.8"/>
<rect x="583.8" y="53.4" width="1.8" height="1.8"/>
<rect x="584.2" y="51.4" width="1.8" height="1.8"/>
<rect x="584.6" y="50.2" width="1.8" height="1.8"/>
<rect x="585.1" y="50.9" width="1.8" height="1.8"/>
<rect x="585.5" y="50.5" width="1.8" height="1.8"/>
<rect x="585.9" y="50.0" width="1.8" height="1.8"/>
<rect x="586.3" y="51.1" width="1.8" height="1.8"/>
<rect x="586.7" y="48.7" width="1.8" height="1.8"/>
<rect x="587.2" y="50.3" width="1.8" height="1.8"/>
<rect x="587.6" y="47.8" width="1.8" height="1.8"/>
<rect x="588.0" y="47.9" width="1.8" height="1.8"/>
<rect x="588.4" y="48.8" width="1.8" height="1.8"/>
<rect x="588.8" y="48.9" width="1.8" height="1.8"/>
<rect x="589.3" y="48.3" width="1.8" height="1.8"/>
<rect x="589.7" y="47.5" width="1.8" height="1.8"/>
<rect x="590.1" y="47.0" width="1.8" height="1.8"/>
<rect x="590.5" y="46.8" width="1.8" height="1.8"/>
<rect x="590.9" y="46.9" width="1.8" height="1.8"/>
<rect x="591.4" y="46.0" width="1.8" height="1.8"/>
<rect x="591.8" y="46.1" width="1.8" height="1.8"/>
<rect x="592.2" y="46.1" width="1.8" height="1.8"/>
<rect x="592.6" y="45.4" width="1.8" height="1.8"/>
<rect x="593.0" y="45.9" width="1.8" height="1.8"/>
<rect x="593.5" y="45.9" width="1.8" height="1.8"/>
<rect x="593.9" y="47.5" width="1.8" height="1.8"/>
<rect x="594.3" y="46.4" width="1.8" height="1.8"/>
<rect x="594.7" y="46.1" width="1.8" height="1.8"/>
<rect x="595.1" y="46.5" width="1.8" height="1.8"/>
<rect x="595.6" y="47.1" width="1.8" height="1.8"/>
<rect x="596.0" y="48.3" width="1.8" height="1.8"/>
<rect x="596.4" y="47.8" width="1.8" height="1.8"/>
<rect x="596.8" y="49.0" width="1.8" height="1.8"/>
<rect x="597.2" y="50.9" width="1.8" height="1.8"/>
<rect x="597.7" y="47.8" width="1.8" height="1.8"/>
<rect x="598.1" y="49.6" width="1.8" height="1.8"/>
<rect x="598.5" y="51.4" width="1.8" height="1.8"/>
<rect x="598.9" y="52.2" width="1.8" height="1.8"/>
<rect x="599.3" y="52.6" width="1.8" height="1.8"/>
<rect x="599.8" y="52.5" width="1.8" height="1.8"/>
<rect x="600.2" y="53.9" width="1.8" height="1.8"/>
<rect x="600.6" y="54.1" width="1.8" height="1.8"/>
<rect x="601.0" y="53.9" width="1.8" height="1.8"/>
<rect x="601.4" y="56.9" width="1.8" height="1.8"/>
<rect x="601.9" y="55.6" width="1.8" height="1.8"/>
<rect x="602.3" y="55.2" width="1.8" height="1.8"/>
<rect x="602.7" y="55.9" width="1.8" height="1.8"/>
<rect x="603.1" y="56.0" width="1.8" height="1.8"/>
<rect x="603.5" y="56.4" width="1.8" height="1.8"/>
<rect x="604.0" y="54.3" width="1.8" height="1.8"/>
<rect x="604.4" y="56.5" width="1.8" height="1.8"/>
<rect x="604.8" y="58.0" width="1.8" height="1.8"/>
<rect x="605.2" y="56.4" width="1.8" height="1.8"/>
<rect x="605.6" y="57.7" width="1.8" height="1.8"/>
<rect x="606.1" y="59.3" width="1.8" height="1.8"/>
<rect x="606.5" y="60.1" width="1.8" height="1.8"/>
<rect x="606.9" y="61.5" width="1.8" height="1.8"/>
<rect x="607.3" y="59.5" width="1.8" height="1.8"/>
<rect x="607.7" y="61.6" width="1.8" height="1.8"/>
<rect x="608.2" y="62.5" width="1.8" height="1.8"/>
<rect x="608.6" y="64.6" width="1.8" height="1.8"/>
<rect x="609.0" y="66.2" width="1.8" height="1.8"/>
<rect x="609.4" y="63.6" width="1.8" height="1.8"/>
<rect x="609.8" y="68.6" width="1.8" height="1.8"/>
<rect x="610.3" y="67.2" width="1.8" height="1.8"/>
<rect x="610.7" y="70.6" width="1.8" height="1.8"/>
<rect x="611.1" y="69.4" width="1.8" height="1.8"/>
<rect x="611.5" y="72.1" width="1.8" height="1.8"/>
<rect x="611.9" y="74.1" width="1.8" height="1.8"/>
<rect x="612.4" y="73.4" width="1.8" height="1.8"/>
<rect x="612.8" y="74.7" width="1.8" height="1.8"/>
<rect x="613.2" y="76.3" width="1.8" height="1.8"/>
<rect x="613.6" y="76.3" width="1.8" height="1.8"/>
<rect x="614.0" y="76.7" width="1.8" height="1.8"/>
<rect x="614.5" y="79.1" width="1.8" height="1.8"/>
<rect x="614.9" y="78.5" width="1.8" height="1.8"/>
<rect x="615.3" y="76.8" width="1.8" height="1.8"/>
<rect x="615.7" y="80.9" width="1.8" height="1.8"/>
<rect x="616.1" y="75.8" width="1.8" height="1.8"/>
<rect x="616.6" y="78.6" width="1.8" height="1.8"/>
<rect x="617.0" y="77.0" width="1.8" height="1.8"/>
<rect x="617.4" y="77.6" width="1.8" height="1.8"/>
<rect x="617.8" y="78.5" width="1.8" height="1.8"/>
<rect x="618.2" y="77.8" width="1.8" height="1.8"/>
<rect x="618.7" y="78.5" width="1.8" height="1.8"/>
<rect x="619.1" y="75.2" width="1.8" height="1.8"/>
<rect x="619.5" y="75.1" width="1.8" height="1.8"/>
<rect x="619.9" y="74.9" width="1.8" height="1.8"/>
<rect x="620.3" y="77.2" width="1.8" height="1.8"/>
<rect x="620.8" y="74.8" width="1.8" height="1.8"/>
<rect x="621.2" y="73.4" width="1.8" height="1.8"/>
<rect x="621.6" y="75.1" width="1.8" height="1.8"/>
<rect x="622.0" y="76.0" width="1.8" height="1.8"/>
<rect x="622.4" y="77.1" width="1.8" height="1.8"/>
<rect x="622.9" y="71.1" width="1.8" height="1.8"/>
<rect x="623.3" y="77.8" width="1.8" height="1.8"/>
<rect x="623.7" y="74.0" width="1.8" height="1.8"/>
<rect x="624.1" y="76.9" width="1.8" height="1.8"/>
<rect x="624.5" y="77.6" width="1.8" height="1.8"/>
<rect x="625.0" y="76.5" width="1.8" height="1.8"/>
<rect x="625.4" y="69.5" width="1.8" height="1.8"/>
<rect x="625.8" y="64.1" width="1.8" height="1.8"/>
<rect x="626.2" y="73.4" width="1.8" height="1.8"/>
<rect x="626.6" y="69.1" width="1.8" height="1.8"/>
<rect x="627.1" y="72.6" width="1.8" height="1.8"/>
<rect x="627.5" y="73.8" width="1.8" height="1.8"/>
<rect x="627.9" y="71.8" width="1.8" height="1.8"/>
<rect x="628.3" y="73.0" width="1.8" height="1.8"/>
<rect x="628.7" y="75.3" width="1.8" height="1.8"/>
<rect x="629.2" y="75.5" width="1.8" height="1.8"/>
<rect x="629.6" y="75.6" width="1.8" height="1.8"/>
<rect x="630.0" y="68.3" width="1.8" height="1.8"/>
<rect x="630.4" y="70.0" width="1.8" height="1.8"/>
<rect x="630.8" y="69.9" width="1.8" height="1.8"/>
<rect x="631.3" y="67.1" width="1.8" height="1.8"/>
<rect x="631.7" y="73.1" width="1.8" height="1.8"/>
<rect x="632.1" y="73.4" width="1.8" height="1.8"/>
<rect x="632.5" y="70.0" width="1.8" height="1.8"/>
<rect x="632.9" y="74.3" width="1.8" height="1.8"/>
<rect x="633.4" y="71.2" width="1.8" height="1.8"/>
<rect x="633.8" y="73.9" width="1.8" height="1.8"/>
<rect x="634.2" y="72.9" width="1.8" height="1.8"/>
<rect x="634.6" y="74.1" width="1.8" height="1.8"/>
<rect x="635.0" y="72.0" width="1.8" height="1.8"/>
<rect x="635.5" y="75.1" width="1.8" height="1.8"/>
<rect x="635.9" y="72.4" width="1.8" height="1.8"/>
<rect x="636.3" y="76.9" width="1.8" height="1.8"/>
<rect x="636.7" y="75.2" width="1.8" height="1.8"/>
<rect x="637.1" y="74.0" width="1.8" height="1.8"/>
<rect x="637.6" y="80.3" width="1.8" height="1.8"/>
<rect x="638.0" y="75.8" width="1.8" height="1.8"/>
<rect x="638.4" y="77.3" width="1.8" height="1.8"/>
<rect x="638.8" y="81.0" width="1.8" height="1.8"/>
<rect x="639.2" y="79.0" width="1.8" height="1.8"/>
<rect x="639.7" y="79.5" width="1.8" height="1.8"/>
<rect x="640.1" y="78.9" width="1.8" height="1.8"/>
<rect x="640.5" y="80.2" width="1.8" height="1.8"/>
<rect x="640.9" y="80.7" width="1.8" height="1.8"/>
<rect x="641.3" y="78.9" width="1.8" height="1.8"/>
<rect x="641.8" y="83.6" width="1.8" height="1.8"/>
<rect x="642.2" y="84.9" width="1.8" height="1.8"/>
<rect x="642.6" y="83.5" width="1.8" height="1.8"/>
<rect x="643.0" y="80.4" width="1.8" height="1.8"/>
<rect x="643.4" y="82.4" width="1.8" height="1.8"/>
<rect x="643.9" y="80.5" width="1.8" height="1.8"/>
<rect x="644.3" y="81.2" width="1.8" height="1.8"/>
<rect x="644.7" y="84.0" width="1.8" height="1.8"/>
<rect x="645.1" y="86.3" width="1.8" height="1.8"/>
<rect x="645.5" y="78.4" width="1.8" height="1.8"/>
<rect x="646.0" y="80.8" width="1.8" height="1.8"/>
<rect x="646.4" y="81.0" width="1.8" height="1.8"/>
<rect x="646.8" y="85.6" width="1.8" height="1.8"/>
<rect x="647.2" y="76.3" width="1.8" height="1.8"/>
<rect x="647.6" y="89.2" width="1.8" height="1.8"/>
<rect x="648.1" y="85.8" width="1.8" height="1.8"/>
<rect x="648.5" y="78.9" width="1.8" height="1.8"/>
<rect x="648.9" y="88.1" width="1.8" height="1.8"/>
<rect x="649.3" y="89.3" width="1.8" height="1.8"/>
<rect x="649.7" y="91.0" width="1.8" height="1.8"/>
<rect x="650.2" y="86.6" width="1.8" height="1.8"/>
<rect x="650.6" y="86.6" width="1.8" height="1.8"/>
<rect x="651.0" y="92.9" width="1.8" height="1.8"/>
<rect x="651.4" y="89.8" width="1.8" height="1.8"/>
<rect x="651.8" y="92.2" width="1.8" height="1.8"/>
<rect x="652.3" y="90.2" width="1.8" height="1.8"/>
<rect x="652.7" y="84.4" width="1.8" height="1.8"/>
<rect x="653.1" y="88.3" width="1.8" height="1.8"/>
<rect x="653.5" y="87.6" width="1.8" height="1.8"/>
<rect x="653.9" y="89.7" width="1.8" height="1.8"/>
<rect x="654.4" y="89.7" width="1.8" height="1.8"/>
<rect x="654.8" y="89.6" width="1.8" height="1.8"/>
<rect x="655.2" y="87.5" width="1.8" height="1.8"/>
<rect x="655.6" y="91.4" width="1.8" height="1.8"/>
<rect x="656.0" y="86.8" width="1.8" height="1.8"/>
<rect x="656.5" y="84.5" width="1.8" height="1.8"/>
<rect x="656.9" y="94.8" width="1.8" height="1.8"/>
<rect x="657.3" y="89.9" width="1.8" height="1.8"/>
<rect x="657.7" y="81.5" width="1.8" height="1.8"/>
<rect x="658.1" y="91.0" width="1.8" height="1.8"/>
<rect x="658.6" y="86.1" width="1.8" height="1.8"/>
<rect x="659.0" y="91.8" width="1.8" height="1.8"/>
<rect x="659.4" y="84.8" width="1.8" height="1.8"/>
<rect x="659.8" y="90.2" width="1.8" height="1.8"/>
<rect x="660.2" y="93.4" width="1.8" height="1.8"/>
<rect x="660.7" y="85.8" width="1.8" height="1.8"/>
<rect x="661.1" y="90.2" width="1.8" height="1.8"/>
<rect x="661.5" y="92.1" width="1.8" height="1.8"/>
<rect x="661.9" y="91.1" width="1.8" height="1.8"/>
<rect x="662.3" y="88.5" width="1.8" height="1.8"/>
<rect x="662.8" y="95.7" width="1.8" height="1.8"/>
<rect x="663.2" y="85.3" width="1.8" height="1.8"/>
<rect x="663.6" y="92.1" width="1.8" height="1.8"/>
<rect x="664.0" y="95.2" width="1.8" height="1.8"/>
<rect x="664.4" y="89.4" width="1.8" height="1.8"/>
<rect x="664.9" y="93.3" width="1.8" height="1.8"/>
<rect x="665.3" y="89.6" width="1.8" height="1.8"/>
<rect x="665.7" y="91.7" width="1.8" height="1.8"/>
<rect x="666.1" y="92.5" width="1.8" height="1.8"/>
<rect x="666.5" y="92.9" width="1.8" height="1.8"/>
<rect x="667.0" y="90.2" width="1.8" height="1.8"/>
<rect x="667.4" y="88.3" width="1.8" height="1.8"/>
<rect x="667.8" y="93.4" width="1.8" height="1.8"/>
<rect x="668.2" y="95.4" width="1.8" height="1.8"/>
<rect x="668.6" y="93.9" width="1.8" height="1.8"/>
<rect x="669.1" y="98.8" width="1.8" height="1.8"/>
<rect x="669.5" y="90.0" width="1.8" height="1.8"/>
<rect x="669.9" y="88.2" width="1.8" height="1.8"/>
<rect x="670.3" y="88.3" width="1.8" height="1.8"/>
<rect x="670.7" y="104.5" width="1.8" height="1.8"/>
<rect x="671.2" y="93.2" width="1.8" height="1.8"/>
<rect x="671.6" y="93.1" width="1.8" height="1.8"/>
<rect x="672.0" y="89.4" width="1.8" height="1.8"/>
<rect x="672.4" y="89.4" width="1.8" height="1.8"/>
<rect x="672.8" y="89.4" width="1.8" height="1.8"/>
<rect x="673.3" y="93.8" width="1.8" height="1.8"/>
<rect x="673.7" y="97.3" width="1.8" height="1.8"/>
<rect x="674.1" y="89.7" width="1.8" height="1.8"/>
<rect x="674.5" y="90.0" width="1.8" height="1.8"/>
<rect x="674.9" y="92.0" width="1.8" height="1.8"/>
<rect x="675.4" y="101.7" width="1.8" height="1.8"/>
<rect x="675.8" y="100.3" width="1.8" height="1.8"/>
<rect x="676.2" y="90.6" width="1.8" height="1.8"/>
<rect x="676.6" y="82.9" width="1.8" height="1.8"/>
<rect x="677.0" y="95.5" width="1.8" height="1.8"/>
<rect x="677.5" y="90.4" width="1.8" height="1.8"/>
<rect x="677.9" y="102.5" width="1.8" height="1.8"/>
<rect x="678.3" y="98.9" width="1.8" height="1.8"/>
<rect x="678.7" y="95.3" width="1.8" height="1.8"/>
<rect x="679.1" y="103.5" width="1.8" height="1.8"/>
<rect x="679.6" y="101.5" width="1.8" height="1.8"/>
<rect x="680.0" y="95.5" width="1.8" height="1.8"/>
<rect x="680.4" y="93.2" width="1.8" height="1.8"/>
<rect x="680.8" y="89.2" width="1.8" height="1.8"/>
<rect x="681.2" y="99.0" width="1.8" height="1.8"/>
<rect x="681.7" y="98.0" width="1.8" height="1.8"/>
<rect x="682.1" y="91.4" width="1.8" height="1.8"/>
<rect x="682.5" y="102.7" width="1.8" height="1.8"/>
<rect x="682.9" y="93.6" width="1.8" height="1.8"/>
<rect x="683.3" y="90.7" width="1.8" height="1.8"/>
<rect x="683.8" y="91.9" width="1.8" height="1.8"/>
<rect x="684.2" y="96.8" width="1.8" height="1.8"/>
<rect x="684.6" y="100.0" width="1.8" height="1.8"/>
<rect x="685.0" y="95.6" width="1.8" height="1.8"/>
<rect x="685.4" y="103.1" width="1.8" height="1.8"/>
<rect x="685.9" y="98.4" width="1.8" height="1.8"/>
<rect x="686.3" y="94.2" width="1.8" height="1.8"/>
<rect x="686.7" y="99.2" width="1.8" height="1.8"/>
<rect x="687.1" y="99.7" width="1.8" height="1.8"/>
<rect x="687.5" y="104.6" width="1.8" height="1.8"/>
<rect x="688.0" y="100.9" width="1.8" height="1.8"/>
<rect x="688.4" y="97.6" width="1.8" height="1.8"/>
<rect x="688.8" y="104.5" width="1.8" height="1.8"/>
<rect x="689.2" y="93.4" width="1.8" height="1.8"/>
<rect x="689.6" y="91.6" width="1.8" height="1.8"/>
<rect x="690.1" y="98.9" width="1.8" height="1.8"/>
<rect x="690.5" y="98.0" width="1.8" height="1.8"/>
<rect x="690.9" y="101.8" width="1.8" height="1.8"/>
<rect x="691.3" y="99.3" width="1.8" height="1.8"/>
<rect x="691.7" y="99.0" width="1.8" height="1.8"/>
<rect x="692.2" y="108.0" width="1.8" height="1.8"/>
<rect x="692.6" y="107.6" width="1.8" height="1.8"/>
<rect x="693.0" y="98.3" width="1.8" height="1.8"/>
<rect x="693.4" y="104.5" width="1.8" height="1.8"/>
<rect x="693.8" y="95.6" width="1.8" height="1.8"/>
<rect x="694.3" y="97.3" width="1.8" height="1.8"/>
<rect x="694.7" y="102.3" width="1.8" height="1.8"/>
<rect x="695.1" y="100.8" width="1.8" height="1.8"/>
</g>
<g fill="#ff0000">
<rect x="537.6" y="48.3" width="1.8" height="1.8"/>
<rect x="538.0" y="48.3" width="1.8" height="1.8"/>
<rect x="538.4" y="48.6" width="1.8" height="1.8"/>
<rect x="538.9" y="49.4" width="1.8" height="1.8"/>
<rect x="539.3" y="49.4" width="1.8" height="1.8"/>
<rect x="539.7" y="49.9" width="1.8" height="1.8"/>
<rect x="540.1" y="50.5" width="1.8" height="1.8"/>
<rect x="540.5" y="49.9" width="1.8" height="1.8"/>
<rect x="541.0" y="50.6" width="1.8" height="1.8"/>
<rect x="541.4" y="50.3" width="1.8" height="1.8"/>
<rect x="541.8" y="51.7" width="1.8" height="1.8"/>
<rect x="542.2" y="50.9" width="1.8" height="1.8"/>
<rect x="542.6" y="51.1" width="1.8" height="1.8"/>
<rect x="543.1" y="51.7" width="1.8" height="1.8"/>
<rect x="543.5" y="52.7" width="1.8" height="1.8"/>
<rect x="543.9" y="52.6" width="1.8" height="1.8"/>
<rect x="544.3" y="52.2" width="1.8" height="1.8"/>
<rect x="544.7" y="53.2" width="1.8" height="1.8"/>
<rect x="545.2" y="53.1" width="1.8" height="1.8"/>
<rect x="545.6" y="53.3" width="1.8" height="1.8"/>
<rect x="546.0" y="54.6" width="1.8" height="1.8"/>
<rect x="546.4" y="54.3" width="1.8" height="1.8"/>
<rect x="546.8" y="54.6" width="1.8" height="1.8"/>
<rect x="547.3" y="54.9" width="1.8" height="1.8"/>
<rect x="547.7" y="54.7" width="1.8" height="1.8"/>
<rect x="548.1" y="55.4" width="1.8" height="1.8"/>
<rect x="548.5" y="55.3" width="1.8" height="1.8"/>
<rect x="548.9" y="54.7" width="1.8" height="1.8"/>
<rect x="549.4" y="55.9" width="1.8" height="1.8"/>
<rect x="549.8" y="56.7" width="1.8" height="1.8"/>
<rect x="550.2" y="56.1" width="1.8" height="1.8"/>
<rect x="550.6" y="56.3" width="1.8" height="1.8"/>
<rect x="551.0" y="55.3" width="1.8" height="1.8"/>
<rect x="551.5" y="55.2" width="1.8" height="1.8"/>
<rect x="551.9" y="54.8" width="1.8" height="1.8"/>
<rect x="552.3" y="54.5" width="1.8" height="1.8"/>
<rect x="552.7" y="54.3" width="1.8" height="1.8"/>
<rect x="553.1" y="53.3" width="1.8" height="1.8"/>
<rect x="553.6" y="53.3" width="1.8" height="1.8"/>
<rect x="554.0" y="53.4" width="1.8" height="1.8"/>
<rect x="554.4" y="52.1" width="1.8" height="1.8"/>
<rect x="554.8" y="50.6" width="1.8" height="1.8"/>
<rect x="555.2" y="49.5" width="1.8" height="1.8"/>
<rect x="555.7" y="48.4" width="1.8" height="1.8"/>
<rect x="556.1" y="47.3" width="1.8" height="1.8"/>
<rect x="556.5" y="46.0" width="1.8" height="1.8"/>
<rect x="556.9" y="44.8" width="1.8" height="1.8"/>
<rect x="557.3" y="43.1" width="1.8" height="1.8"/>
<rect x="557.8" y="41.1" width="1.8" height="1.8"/>
<rect x="558.2" y="39.7" width="1.8" height="1.8"/>
<rect x="558.6" y="37.8" width="1.8" height="1.8"/>
<rect x="559.0" y="35.1" width="1.8" height="1.8"/>
<rect x="559.4" y="33.2" width="1.8" height="1.8"/>
<rect x="559.9" y="31.8" width="1.8" height="1.8"/>
<rect x="560.3" y="29.9" width="1.8" height="1.8"/>
<rect x="560.7" y="30.6" width="1.8" height="1.8"/>
<rect x="561.1" y="32.4" width="1.8" height="1.8"/>
<rect x="561.5" y="34.6" width="1.8" height="1.8"/>
<rect x="562.0" y="36.7" width="1.8" height="1.8"/>
<rect x="562.4" y="40.5" width="1.8" height="1.8"/>
<rect x="562.8" y="42.7" width="1.8" height="1.8"/>
<rect x="563.2" y="45.5" width="1.8" height="1.8"/>
<rect x="563.6" y="47.5" width="1.8" height="1.8"/>
<rect x="564.1" y="50.1" width="1.8" height="1.8"/>
<rect x="564.5" y="52.8" width="1.8" height="1.8"/>
<rect x="564.9" y="54.8" width="1.8" height="1.8"/>
<rect x="565.3" y="56.4" width="1.8" height="1.8"/>
<rect x="565.7" y="58.6" width="1.8" height="1.8"/>
<rect x="566.2" y="59.2" width="1.8" height="1.8"/>
<rect x="566.6" y="62.1" width="1.8" height="1.8"/>
<rect x="567.0" y="64.0" width="1.8" height="1.8"/>
<rect x="567.4" y="64.5" width="1.8" height="1.8"/>
<rect x="567.8" y="66.4" width="1.8" height="1.8"/>
<rect x="568.3" y="67.6" width="1.8" height="1.8"/>
<rect x="568.7" y="68.7" width="1.8" height="1.8"/>
<rect x="569.1" y="69.4" width="1.8" height="1.8"/>
<rect x="569.5" y="70.9" width="1.8" height="1.8"/>
<rect x="569.9" y="72.6" width="1.8" height="1.8"/>
<rect x="570.4" y="73.8" width="1.8" height="1.8"/>
<rect x="570.8" y="74.1" width="1.8" height="1.8"/>
<rect x="571.2" y="75.3" width="1.8" height="1.8"/>
<rect x="571.6" y="75.1" width="1.8" height="1.8"/>
<rect x="572.0" y="77.4" width="1.8" height="1.8"/>
<rect x="572.5" y="74.8" width="1.8" height="1.8"/>
<rect x="572.9" y="77.3" width="1.8" height="1.8"/>
<rect x="573.3" y="78.3" width="1.8" height="1.8"/>
<rect x="573.7" y="79.1" width="1.8" height="1.8"/>
<rect x="574.1" y="79.9" width="1.8" height="1.8"/>
<rect x="574.6" y="78.4" width="1.8" height="1.8"/>
<rect x="575.0" y="77.4" width="1.8" height="1.8"/>
<rect x="575.4" y="79.1" width="1.8" height="1.8"/>
<rect x="575.8" y="78.2" width="1.8" height="1.8"/>
<rect x="576.2" y="79.6" width="1.8" height="1.8"/>
<rect x="576.7" y="78.7" width="1.8" height="1.8"/>
<rect x="577.1" y="79.5" width="1.8" height="1.8"/>
<rect x="577.5" y="79.7" width="1.8" height="1.8"/>
<rect x="577.9" y="80.0" width="1.8" height="1.8"/>
<rect x="578.3" y="79.1" width="1.8" height="1.8"/>
<rect x="578.8" y="80.4" width="1.8" height="1.8"/>
<rect x="579.2" y="78.4" width="1.8" height="1.8"/>
<rect x="579.6" y="78.5" width="1.8" height="1.8"/>
<rect x="580.0" y="78.7" width="1.8" height="1.8"/>
<rect x="580.4" y="78.0" width="1.8" height="1.8"/>
<rect x="580.9" y="78.8" width="1.8" height="1.8"/>
<rect x="581.3" y="77.1" width="1.8" height="1.8"/>
<rect x="581.7" y="76.5" width="1.8" height="1.8"/>
<rect x="582.1" y="77.4" width="1.8" height="1.8"/>
<rect x="582.5" y="76.3" width="1.8" height="1.8"/>
<rect x="583.0" y="74.5" width="1.8" height="1.8"/>
<rect x="583.4" y="74.1" width="1.8" height="1.8"/>
<rect x="583.8" y="74.0" width="1.8" height="1.8"/>
<rect x="584.2" y="74.3" width="1.8" height="1.8"/>
<rect x="584.6" y="73.2" width="1.8" height="1.8"/>
<rect x="585.1" y="71.8" width="1.8" height="1.8"/>
<rect x="585.5" y="69.0" width="1.8" height="1.8"/>
<rect x="585.9" y="71.0" width="1.8" height="1.8"/>
<rect x="586.3" y="68.7" width="1.8" height="1.8"/>
<rect x="586.7" y="67.9" width="1.8" height="1.8"/>
<rect x="587.2" y="68.1" width="1.8" height="1.8"/>
<rect x="587.6" y="68.2" width="1.8" height="1.8"/>
<rect x="588.0" y="67.6" width="1.8" height="1.8"/>
<rect x="588.4" y="69.2" width="1.8" height="1.8"/>
<rect x="588.8" y="66.3" width="1.8" height="1.8"/>
<rect x="589.3" y="65.7" width="1.8" height="1.8"/>
<rect x="589.7" y="67.9" width="1.8" height="1.8"/>
<rect x="590.1" y="67.6" width="1.8" height="1.8"/>
<rect x="590.5" y="67.6" width="1.8" height="1.8"/>
<rect x="590.9" y="67.8" width="1.8" height="1.8"/>
<rect x="591.4" y="69.1" width="1.8" height="1.8"/>
<rect x="591.8" y="70.9" width="1.8" height="1.8"/>
<rect x="592.2" y="70.8" width="1.8" height="1.8"/>
<rect x="592.6" y="70.7" width="1.8" height="1.8"/>
<rect x="593.0" y="72.4" width="1.8" height="1.8"/>
<rect x="593.5" y="72.5" width="1.8" height="1.8"/>
<rect x="593.9" y="71.9" width="1.8" height="1.8"/>
<rect x="594.3" y="74.4" width="1.8" height="1.8"/>
<rect x="594.7" y="74.9" width="1.8" height="1.8"/>
<rect x="595.1" y="76.5" width="1.8" height="1.8"/>
<rect x="595.6" y="75.5" width="1.8" height="1.8"/>
<rect x="596.0" y="75.0" width="1.8" height="1.8"/>
<rect x="596.4" y="77.0" width="1.8" height="1.8"/>
<rect x="596.8" y="79.0" width="1.8" height="1.8"/>
<rect x="597.2" y="76.6" width="1.8" height="1.8"/>
<rect x="597.7" y="79.1" width="1.8" height="1.8"/>
<rect x="598.1" y="78.2" width="1.8" height="1.8"/>
<rect x="598.5" y="79.1" width="1.8" height="1.8"/>
<rect x="598.9" y="79.0" width="1.8" height="1.8"/>
<rect x="599.3" y="78.8" width="1.8" height="1.8"/>
<rect x="599.8" y="80.9" width="1.8" height="1.8"/>
<rect x="600.2" y="80.2" width="1.8" height="1.8"/>
<rect x="600.6" y="81.2" width="1.8" height="1.8"/>
<rect x="601.0" y="82.1" width="1.8" height="1.8"/>
<rect x="601.4" y="81.1" width="1.8" height="1.8"/>
<rect x="601.9" y="83.6" width="1.8" height="1.8"/>
<rect x="602.3" y="84.2" width="1.8" height="1.8"/>
<rect x="602.7" y="84.4" width="1.8" height="1.8"/>
<rect x="603.1" y="84.8" width="1.8" height="1.8"/>
<rect x="603.5" y="86.4" width="1.8" height="1.8"/>
<rect x="604.0" y="87.3" width="1.8" height="1.8"/>
<rect x="604.4" y="87.5" width="1.8" height="1.8"/>
<rect x="604.8" y="88.5" width="1.8" height="1.8"/>
<rect x="605.2" y="89.0" width="1.8" height="1.8"/>
<rect x="605.6" y="88.2" width="1.8" height="1.8"/>
<rect x="606.1" y="91.4" width="1.8" height="1.8"/>
<rect x="606.5" y="92.0" width="1.8" height="1.8"/>
<rect x="606.9" y="90.7" width="1.8" height="1.8"/>
<rect x="607.3" y="94.4" width="1.8" height="1.8"/>
<rect x="607.7" y="93.0" width="1.8" height="1.8"/>
<rect x="608.2" y="93.4" width="1.8" height="1.8"/>
<rect x="608.6" y="94.8" width="1.8" height="1.8"/>
<rect x="609.0" y="96.2" width="1.8" height="1.8"/>
<rect x="609.4" y="94.7" width="1.8" height="1.8"/>
<rect x="609.8" y="97.3" width="1.8" height="1.8"/>
<rect x="610.3" y="96.7" width="1.8" height="1.8"/>
<rect x="610.7" y="96.2" width="1.8" height="1.8"/>
<rect x="611.1" y="98.2" width="1.8" height="1.8"/>
<rect x="611.5" y="97.7" width="1.8" height="1.8"/>
<rect x="611.9" y="99.2" width="1.8" height="1.8"/>
<rect x="612.4" y="100.0" width="1.8" height="1.8"/>
<rect x="612.8" y="99.7" width="1.8" height="1.8"/>
<rect x="613.2" y="98.3" width="1.8" height="1.8"/>
<rect x="613.6" y="102.2" width="1.8" height="1.8"/>
<rect x="614.0" y="102.0" width="1.8" height="1.8"/>
<rect x="614.5" y="101.9" width="1.8" height="1.8"/>
<rect x="614.9" y="99.9" width="1.8" height="1.8"/>
<rect x="615.3" y="100.6" width="1.8" height="1.8"/>
<rect x="615.7" y="100.4" width="1.8" height="1.8"/>
<rect x="616.1" y="97.3" width="1.8" height="1.8"/>
<rect x="616.6" y="98.9" width="1.8" height="1.8"/>
<rect x="617.0" y="99.3" width="1.8" height="1.8"/>
<rect x="617.4" y="97.8" width="1.8" height="1.8"/>
<rect x="617.8" y="99.1" width="1.8" height="1.8"/>
<rect x="618.2" y="99.6" width="1.8" height="1.8"/>
<rect x="618.7" y="98.3" width="1.8" height="1.8"/>
<rect x="619.1" y="96.7" width="1.8" height="1.8"/>
<rect x="619.5" y="95.1" width="1.8" height="1.8"/>
<rect x="619.9" y="95.8" width="1.8" height="1.8"/>
<rect x="620.3" y="95.7" width="1.8" height="1.8"/>
<rect x="620.8" y="98.7" width="1.8" height="1.8"/>
<rect x="621.2" y="97.0" width="1.8" height="1.8"/>
<rect x="621.6" y="96.6" width="1.8" height="1.8"/>
<rect x="622.0" y="98.0" width="1.8" height="1.8"/>
<rect x="622.4" y="96.6" width="1.8" height="1.8"/>
<rect x="622.9" y="98.9" width="1.8" height="1.8"/>
<rect x="623.3" y="98.9" width="1.8" height="1.8"/>
<rect x="623.7" y="96.2" width="1.8" height="1.8"/>
<rect x="624.1" y="96.2" width="1.8" height="1.8"/>
<rect x="624.5" y="95.6" width="1.8" height="1.8"/>
<rect x="625.0" y="99.2" width="1.8" height="1.8"/>
<rect x="625.4" y="94.2" width="1.8" height="1.8"/>
<rect x="625.8" y="93.6" width="1.8" height="1.8"/>
<rect x="626.2" y="96.3" width="1.8" height="1.8"/>
<rect x="626.6" y="96.6" width="1.8" height="1.8"/>
<rect x="627.1" y="93.4" width="1.8" height="1.8"/>
<rect x="627.5" y="95.1" width="1.8" height="1.8"/>
<rect x="627.9" y="95.6" width="1.8" height="1.8"/>
<rect x="628.3" y="96.9" width="1.8" height="1.8"/>
<rect x="628.7" y="96.4" width="1.8" height="1.8"/>
<rect x="629.2" y="91.0" width="1.8" height="1.8"/>
<rect x="629.6" y="98.2" width="1.8" height="1.8"/>
<rect x="630.0" y="101.4" width="1.8" height="1.8"/>
<rect x="630.4" y="97.6" width="1.8" height="1.8"/>
<rect x="630.8" y="99.0" width="1.8" height="1.8"/>
<rect x="631.3" y="99.0" width="1.8" height="1.8"/>
<rect x="631.7" y="97.6" width="1.8" height="1.8"/>
<rect x="632.1" y="99.5" width="1.8" height="1.8"/>
<rect x="632.5" y="98.0" width="1.8" height="1.8"/>
<rect x="632.9" y="96.9" width="1.8" height="1.8"/>
<rect x="633.4" y="102.6" width="1.8" height="1.8"/>
<rect x="633.8" y="102.8" width="1.8" height="1.8"/>
<rect x="634.2" y="98.4" width="1.8" height="1.8"/>
<rect x="634.6" y="103.2" width="1.8" height="1.8"/>
<rect x="635.0" y="101.2" width="1.8" height="1.8"/>
<rect x="635.5" y="102.6" width="1.8" height="1.8"/>
<rect x="635.9" y="100.9" width="1.8" height="1.8"/>
<rect x="636.3" y="103.9" width="1.8" height="1.8"/>
<rect x="636.7" y="102.8" width="1.8" height="1.8"/>
<rect x="637.1" y="106.4" width="1.8" height="1.8"/>
<rect x="637.6" y="104.9" width="1.8" height="1.8"/>
<rect x="638.0" y="104.7" width="1.8" height="1.8"/>
<rect x="638.4" y="104.1" width="1.8" height="1.8"/>
<rect x="638.8" y="103.6" width="1.8" height="1.8"/>
<rect x="639.2" y="106.3" width="1.8" height="1.8"/>
<rect x="639.7" y="109.8" width="1.8" height="1.8"/>
<rect x="640.1" y="101.7" width="1.8" height="1.8"/>
<rect x="640.5" y="108.1" width="1.8" height="1.8"/>
<rect x="640.9" y="106.1" width="1.8" height="1.8"/>
<rect x="641.3" y="100.2" width="1.8" height="1.8"/>
<rect x="641.8" y="104.6" width="1.8" height="1.8"/>
<rect x="642.2" y="104.9" width="1.8" height="1.8"/>
<rect x="642.6" y="106.7" width="1.8" height="1.8"/>
<rect x="643.0" y="108.1" width="1.8" height="1.8"/>
<rect x="643.4" y="106.8" width="1.8" height="1.8"/>
<rect x="643.9" y="107.3" width="1.8" height="1.8"/>
<rect x="644.3" y="108.0" width="1.8" height="1.8"/>
<rect x="644.7" y="109.3" width="1.8" height="1.8"/>
<rect x="645.1" y="106.9" width="1.8" height="1.8"/>
<rect x="645.5" y="107.7" width="1.8" height="1.8"/>
<rect x="646.0" y="105.0" width="1.8" height="1.8"/>
<rect x="646.4" y="107.4" width="1.8" height="1.8"/>
<rect x="646.8" y="107.9" width="1.8" height="1.8"/>
<rect x="647.2" y="106.6" width="1.8" height="1.8"/>
<rect x="647.6" y="111.2" width="1.8" height="1.8"/>
<rect x="648.1" y="108.9" width="1.8" height="1.8"/>
<rect x="648.5" y="105.5" width="1.8" height="1.8"/>
<rect x="648.9" y="112.5" width="1.8" height="1.8"/>
<rect x="649.3" y="111.5" width="1.8" height="1.8"/>
<rect x="649.7" y="105.8" width="1.8" height="1.8"/>
<rect x="650.2" y="106.3" width="1.8" height="1.8"/>
<rect x="650.6" y="112.8" width="1.8" height="1.8"/>
<rect x="651.0" y="103.0" width="1.8" height="1.8"/>
<rect x="651.4" y="111.3" width="1.8" height="1.8"/>
<rect x="651.8" y="112.0" width="1.8" height="1.8"/>
<rect x="652.3" y="110.6" width="1.8" height="1.8"/>
<rect x="652.7" y="109.9" width="1.8" height="1.8"/>
<rect x="653.1" y="111.5" width="1.8" height="1.8"/>
<rect x="653.5" y="112.8" width="1.8" height="1.8"/>
<rect x="653.9" y="111.2" width="1.8" height="1.8"/>
<rect x="654.4" y="113.7" width="1.8" height="1.8"/>
<rect x="654.8" y="111.7" width="1.8" height="1.8"/>
<rect x="655.2" y="115.3" width="1.8" height="1.8"/>
<rect x="655.6" y="111.9" width="1.8" height="1.8"/>
<rect x="656.0" y="108.0" width="1.8" height="1.8"/>
<rect x="656.5" y="116.6" width="1.8" height="1.8"/>
<rect x="656.9" y="115.4" width="1.8" height="1.8"/>
<rect x="657.3" y="117.1" width="1.8" height="1.8"/>
<rect x="657.7" y="116.1" width="1.8" height="1.8"/>
<rect x="658.1" y="108.9" width="1.8" height="1.8"/>
<rect x="658.6" y="110.6" width="1.8" height="1.8"/>
<rect x="659.0" y="115.6" width="1.8" height="1.8"/>
<rect x="659.4" y="113.8" width="1.8" height="1.8"/>
<rect x="659.8" y="112.1" width="1.8" height="1.8"/>
<rect x="660.2" y="113.9" width="1.8" height="1.8"/>
<rect x="660.7" y="113.2" width="1.8" height="1.8"/>
<rect x="661.1" y="111.1" width="1.8" height="1.8"/>
<rect x="661.5" y="112.0" width="1.8" height="1.8"/>
<rect x="661.9" y="110.9" width="1.8" height="1.8"/>
<rect x="662.3" y="116.4" width="1.8" height="1.8"/>
<rect x="662.8" y="104.8" width="1.8" height="1.8"/>
<rect x="663.2" y="115.8" width="1.8" height="1.8"/>
<rect x="663.6" y="115.3" width="1.8" height="1.8"/>
<rect x="664.0" y="120.1" width="1.8" height="1.8"/>
<rect x="664.4" y="116.5" width="1.8" height="1.8"/>
<rect x="664.9" y="118.3" width="1.8" height="1.8"/>
<rect x="665.3" y="114.0" width="1.8" height="1.8"/>
<rect x="665.7" y="115.9" width="1.8" height="1.8"/>
<rect x="666.1" y="119.8" width="1.8" height="1.8"/>
<rect x="666.5" y="116.7" width="1.8" height="1.8"/>
<rect x="667.0" y="116.4" width="1.8" height="1.8"/>
<rect x="667.4" y="112.0" width="1.8" height="1.8"/>
<rect x="667.8" y="110.2" width="1.8" height="1.8"/>
<rect x="668.2" y="121.5" width="1.8" height="1.8"/>
<rect x="668.6" y="121.4" width="1.8" height="1.8"/>
<rect x="669.1" y="116.1" width="1.8" height="1.8"/>
<rect x="669.5" y="120.2" width="1.8" height="1.8"/>
<rect x="669.9" y="116.0" width="1.8" height="1.8"/>
<rect x="670.3" y="119.6" width="1.8" height="1.8"/>
<rect x="670.7" y="121.7" width="1.8" height="1.8"/>
<rect x="671.2" y="113.5" width="1.8" height="1.8"/>
<rect x="671.6" y="121.5" width="1.8" height="1.8"/>
<rect x="672.0" y="116.1" width="1.8" height="1.8"/>
<rect x="672.4" y="123.3" width="1.8" height="1.8"/>
<rect x="672.8" y="119.3" width="1.8" height="1.8"/>
<rect x="673.3" y="116.2" width="1.8" height="1.8"/>
<rect x="673.7" y="117.1" width="1.8" height="1.8"/>
<rect x="674.1" y="118.5" width="1.8" height="1.8"/>
<rect x="674.5" y="122.5" width="1.8" height="1.8"/>
<rect x="674.9" y="115.8" width="1.8" height="1.8"/>
<rect x="675.4" y="118.3" width="1.8" height="1.8"/>
<rect x="675.8" y="116.3" width="1.8" height="1.8"/>
<rect x="676.2" y="113.5" width="1.8" height="1.8"/>
<rect x="676.6" y="123.8" width="1.8" height="1.8"/>
<rect x="677.0" y="119.5" width="1.8" height="1.8"/>
<rect x="677.5" y="117.3" width="1.8" height="1.8"/>
<rect x="677.9" y="113.4" width="1.8" height="1.8"/>
<rect x="678.3" y="122.6" width="1.8" height="1.8"/>
<rect x="678.7" y="115.6" width="1.8" height="1.8"/>
<rect x="679.1" y="117.2" width="1.8" height="1.8"/>
<rect x="679.6" y="113.6" width="1.8" height="1.8"/>
<rect x="680.0" y="124.4" width="1.8" height="1.8"/>
<rect x="680.4" y="112.3" width="1.8" height="1.8"/>
<rect x="680.8" y="111.0" width="1.8" height="1.8"/>
<rect x="681.2" y="115.3" width="1.8" height="1.8"/>
<rect x="681.7" y="119.6" width="1.8" height="1.8"/>
<rect x="682.1" y="115.4" width="1.8" height="1.8"/>
<rect x="682.5" y="121.4" width="1.8" height="1.8"/>
<rect x="682.9" y="117.4" width="1.8" height="1.8"/>
<rect x="683.3" y="125.2" width="1.8" height="1.8"/>
<rect x="683.8" y="122.7" width="1.8" height="1.8"/>
<rect x="684.2" y="122.2" width="1.8" height="1.8"/>
<rect x="684.6" y="117.8" width="1.8" height="1.8"/>
<rect x="685.0" y="118.8" width="1.8" height="1.8"/>
<rect x="685.4" y="126.3" width="1.8" height="1.8"/>
<rect x="685.9" y="127.2" width="1.8" height="1.8"/>
<rect x="686.3" y="125.1" width="1.8" height="1.8"/>
<rect x="686.7" y="123.7" width="1.8" height="1.8"/>
<rect x="687.1" y="111.2" width="1.8" height="1.8"/>
<rect x="687.5" y="122.5" width="1.8" height="1.8"/>
<rect x="688.0" y="117.5" width="1.8" height="1.8"/>
<rect x="688.4" y="125.6" width="1.8" height="1.8"/>
<rect x="688.8" y="120.7" width="1.8" height="1.8"/>
<rect x="689.2" y="112.0" width="1.8" height="1.8"/>
<rect x="689.6" y="119.0" width="1.8" height="1.8"/>
<rect x="690.1" y="123.5" width="1.8" height="1.8"/>
<rect x="690.5" y="127.3" width="1.8" height="1.8"/>
<rect x="690.9" y="122.9" width="1.8" height="1.8"/>
<rect x="691.3" y="124.5" width="1.8" height="1.8"/>
<rect x="691.7" y="128.5" width="1.8" height="1.8"/>
<rect x="692.2" y="124.4" width="1.8" height="1.8"/>
<rect x="692.6" y="121.3" width="1.8" height="1.8"/>
<rect x="693.0" y="132.5" width="1.8" height="1.8"/>
<rect x="693.4" y="127.5" width="1.8" height="1.8"/>
<rect x="693.8" y="134.0" width="1.8" height="1.8"/>
<rect x="694.3" y="127.2" width="1.8" height="1.8"/>
<rect x="694.7" y="127.7" width="1.8" height="1.8"/>
<rect x="695.1" y="124.2" width="1.8" height="1.8"/>
<rect x="695.5" y="130.0" width="1.8" height="1.8"/>
</g>
<g fill="#ff0000"><rect x="696.5" y="133" width="1.3" height="1.3"/><rect x="697" y="136" width="1.3" height="1.3"/></g>
<rect x="538.6" y="3.7" width="171.39999999999998" height="134.10000000000002" fill="none" stroke="#000" stroke-width="1.2"/>
<rect x="538.3" y="137.8" width="0.8" height="2.0" fill="#000"/>
<rect x="546.9" y="137.8" width="0.8" height="2.0" fill="#000"/>
<rect x="555.4" y="137.8" width="0.8" height="2.0" fill="#000"/>
<rect x="564.0" y="137.8" width="0.8" height="3.2" fill="#000"/>
<rect x="572.6" y="137.8" width="0.8" height="2.0" fill="#000"/>
<rect x="581.1" y="137.8" width="0.8" height="2.0" fill="#000"/>
<rect x="589.7" y="137.8" width="0.8" height="2.0" fill="#000"/>
<rect x="598.2" y="137.8" width="0.8" height="2.0" fill="#000"/>
<rect x="606.8" y="137.8" width="0.8" height="3.2" fill="#000"/>
<rect x="615.4" y="137.8" width="0.8" height="2.0" fill="#000"/>
<rect x="623.9" y="137.8" width="0.8" height="2.0" fill="#000"/>
<rect x="632.5" y="137.8" width="0.8" height="2.0" fill="#000"/>
<rect x="641.0" y="137.8" width="0.8" height="2.0" fill="#000"/>
<rect x="649.6" y="137.8" width="0.8" height="3.2" fill="#000"/>
<rect x="658.2" y="137.8" width="0.8" height="2.0" fill="#000"/>
<rect x="666.7" y="137.8" width="0.8" height="2.0" fill="#000"/>
<rect x="675.3" y="137.8" width="0.8" height="2.0" fill="#000"/>
<rect x="683.8" y="137.8" width="0.8" height="2.0" fill="#000"/>
<rect x="692.4" y="137.8" width="0.8" height="3.2" fill="#000"/>
<rect x="701.0" y="137.8" width="0.8" height="2.0" fill="#000"/>
<rect x="709.5" y="137.8" width="0.8" height="2.0" fill="#000"/>
<rect x="535.2" y="11.0" width="3.4" height="0.8" fill="#000"/>
<rect x="536.4" y="20.7" width="2.2" height="0.8" fill="#000"/>
<rect x="535.2" y="30.3" width="3.4" height="0.8" fill="#000"/>
<rect x="536.4" y="40.0" width="2.2" height="0.8" fill="#000"/>
<rect x="535.2" y="49.6" width="3.4" height="0.8" fill="#000"/>
<rect x="536.4" y="59.2" width="2.2" height="0.8" fill="#000"/>
<rect x="535.2" y="68.9" width="3.4" height="0.8" fill="#000"/>
<rect x="536.4" y="78.5" width="2.2" height="0.8" fill="#000"/>
<rect x="535.2" y="88.2" width="3.4" height="0.8" fill="#000"/>
<rect x="536.4" y="97.9" width="2.2" height="0.8" fill="#000"/>
<rect x="535.2" y="107.5" width="3.4" height="0.8" fill="#000"/>
<rect x="536.4" y="117.2" width="2.2" height="0.8" fill="#000"/>
<rect x="535.2" y="126.8" width="3.4" height="0.8" fill="#000"/>
<rect x="536.4" y="136.4" width="2.2" height="0.8" fill="#000"/>
<text x="564.4" y="148.8" font-size="6.5" fill="#000" text-anchor="middle" >0.5</text>
<text x="607.2" y="148.8" font-size="6.5" fill="#000" text-anchor="middle" >1.0</text>
<text x="650.0" y="148.8" font-size="6.5" fill="#000" text-anchor="middle" >1.5</text>
<text x="692.8" y="148.8" font-size="6.5" fill="#000" text-anchor="middle" >2.0</text>
<text x="626" y="159.6" font-size="8.4" text-anchor="middle">q<tspan font-size="5.2" dy="1.8">y</tspan><tspan dy="-1.8">(nm</tspan><tspan font-size="5.2" dy="-3.2">-1</tspan><tspan dy="3.2">)</tspan></text>
<text transform="translate(529.8 72.2) rotate(-90)" font-size="8.5" text-anchor="middle">Offset log(Intensity) (a.u.)</text>
<text x="507.3" y="13.0" font-size="15.6" fill="#000" text-anchor="start" >(d)</text>
<path d="M637.5 5 V22" stroke="#999" stroke-width="0.5"/>
<rect x="645.3" y="8.8" width="1.5" height="1.5" fill="#000"/>
<text x="654.8" y="12" font-size="7.0" fill="#000" text-anchor="start" >C12-Au NP Film</text>
<rect x="645.3" y="18.3" width="1.5" height="1.5" fill="#ff0000"/>
<text x="654.8" y="21.5" font-size="7.0" fill="#000" text-anchor="start" >C18-Au NP Film</text>
<text x="564.3" y="9.5" font-size="6.5" fill="#000" text-anchor="middle" >(10)</text>
<path d="M564 10.2 V12.5" stroke="#000" stroke-width="0.8"/>
<text x="593.8" y="38.8" font-size="6.5" fill="#000" text-anchor="middle" >(11)</text>
<path d="M594 39.8 V43.5" stroke="#000" stroke-width="0.8"/>
<text x="609" y="54" font-size="6.5" fill="#000" text-anchor="middle" >(20)</text>
<path d="M606.5 55 V58.5" stroke="#000" stroke-width="0.8"/>
<text x="632" y="65" font-size="6.5" fill="#000" text-anchor="middle" >(22)</text>
<path d="M631.3 66 V72" stroke="#000" stroke-width="0.8"/>
<text x="558.5" y="31" font-size="6.5" fill="#ff0000" text-anchor="middle" >(10)</text>
<path d="M561 31.5 V33" stroke="#ff0000" stroke-width="0.8"/>
<text x="590" y="62.5" font-size="6.5" fill="#ff0000" text-anchor="middle" >(11)</text>
<path d="M590.2 63.5 V66.5" stroke="#ff0000" stroke-width="0.8"/>
<text x="600.5" y="72.5" font-size="6.5" fill="#ff0000" text-anchor="middle" >(20)</text>
<path d="M599.8 73.5 V78" stroke="#ff0000" stroke-width="0.8"/>
<text x="627.6" y="88.5" font-size="6.5" fill="#ff0000" text-anchor="middle" >(22)</text>
<path d="M627 89.5 V95" stroke="#ff0000" stroke-width="0.8"/>
<clipPath id="ec344"><rect x="344.4" y="165.7" width="173.20000000000005" height="135.5"/></clipPath>
<g clip-path="url(#ec344)" fill="none" stroke="#666" stroke-width="0.6">
<rect x="343.8" y="293.0" width="2.6" height="2.6"/>
<rect x="348.0" y="293.4" width="2.6" height="2.6"/>
<rect x="351.8" y="293.2" width="2.6" height="2.6"/>
<rect x="355.9" y="291.7" width="2.6" height="2.6"/>
<rect x="359.0" y="291.1" width="2.6" height="2.6"/>
<rect x="363.0" y="295.8" width="2.6" height="2.6"/>
<rect x="367.3" y="283.4" width="2.6" height="2.6"/>
<rect x="370.2" y="285.2" width="2.6" height="2.6"/>
<rect x="374.6" y="283.5" width="2.6" height="2.6"/>
<rect x="378.5" y="276.5" width="2.6" height="2.6"/>
<rect x="382.2" y="278.1" width="2.6" height="2.6"/>
<rect x="385.9" y="269.3" width="2.6" height="2.6"/>
<rect x="389.4" y="267.3" width="2.6" height="2.6"/>
<rect x="393.4" y="257.0" width="2.6" height="2.6"/>
<rect x="397.5" y="250.2" width="2.6" height="2.6"/>
<rect x="401.5" y="235.2" width="2.6" height="2.6"/>
<rect x="404.7" y="229.2" width="2.6" height="2.6"/>
<rect x="409.1" y="211.7" width="2.6" height="2.6"/>
<rect x="412.8" y="202.0" width="2.6" height="2.6"/>
<rect x="415.8" y="194.3" width="2.6" height="2.6"/>
<rect x="420.5" y="178.7" width="2.6" height="2.6"/>
<rect x="423.5" y="178.9" width="2.6" height="2.6"/>
<rect x="427.6" y="177.1" width="2.6" height="2.6"/>
<rect x="431.4" y="187.2" width="2.6" height="2.6"/>
<rect x="435.2" y="199.8" width="2.6" height="2.6"/>
<rect x="439.4" y="209.6" width="2.6" height="2.6"/>
<rect x="443.2" y="227.3" width="2.6" height="2.6"/>
<rect x="446.1" y="233.1" width="2.6" height="2.6"/>
<rect x="450.7" y="250.6" width="2.6" height="2.6"/>
<rect x="454.2" y="252.8" width="2.6" height="2.6"/>
<rect x="458.2" y="262.4" width="2.6" height="2.6"/>
<rect x="461.8" y="271.2" width="2.6" height="2.6"/>
<rect x="465.2" y="275.8" width="2.6" height="2.6"/>
<rect x="469.9" y="282.1" width="2.6" height="2.6"/>
<rect x="472.6" y="283.6" width="2.6" height="2.6"/>
<rect x="476.4" y="283.8" width="2.6" height="2.6"/>
<rect x="480.4" y="289.1" width="2.6" height="2.6"/>
<rect x="483.9" y="286.2" width="2.6" height="2.6"/>
<rect x="488.4" y="296.1" width="2.6" height="2.6"/>
<rect x="491.8" y="295.2" width="2.6" height="2.6"/>
<rect x="496.3" y="298.4" width="2.6" height="2.6"/>
<rect x="500.2" y="293.1" width="2.6" height="2.6"/>
<rect x="503.2" y="296.9" width="2.6" height="2.6"/>
<rect x="506.7" y="296.5" width="2.6" height="2.6"/>
<rect x="510.6" y="293.4" width="2.6" height="2.6"/>
<rect x="514.4" y="298.3" width="2.6" height="2.6"/>
</g>
<path d="M344.4 296.5 L345.4 296.2 L346.4 296.0 L347.4 295.7 L348.4 295.5 L349.4 295.2 L350.4 295.0 L351.4 294.7 L352.4 294.4 L353.4 294.1 L354.4 293.8 L355.4 293.4 L356.4 293.1 L357.4 292.8 L358.4 292.4 L359.4 292.0 L360.4 291.6 L361.4 291.2 L362.4 290.8 L363.4 290.4 L364.4 289.9 L365.4 289.4 L366.4 288.9 L367.4 288.4 L368.4 287.9 L369.4 287.3 L370.4 286.7 L371.4 286.1 L372.4 285.5 L373.4 284.8 L374.4 284.1 L375.4 283.4 L376.4 282.6 L377.4 281.8 L378.4 281.0 L379.4 280.1 L380.4 279.2 L381.4 278.2 L382.4 277.2 L383.4 276.2 L384.4 275.1 L385.4 273.9 L386.4 272.7 L387.4 271.4 L388.4 270.1 L389.4 268.7 L390.4 267.2 L391.4 265.6 L392.4 264.0 L393.4 262.3 L394.4 260.5 L395.4 258.6 L396.4 256.6 L397.4 254.5 L398.4 252.3 L399.4 250.0 L400.4 247.6 L401.4 245.1 L402.4 242.5 L403.4 239.8 L404.4 236.9 L405.4 234.0 L406.4 230.9 L407.4 227.7 L408.4 224.5 L409.4 221.2 L410.4 217.8 L411.4 214.3 L412.4 210.9 L413.4 207.4 L414.4 203.9 L415.4 200.5 L416.4 197.2 L417.4 194.1 L418.4 191.1 L419.4 188.3 L420.4 185.9 L421.4 183.7 L422.4 181.8 L423.4 180.4 L424.4 179.3 L425.4 178.7 L426.4 178.5 L427.4 178.8 L428.4 179.5 L429.4 180.6 L430.4 182.2 L431.4 184.1 L432.4 186.3 L433.4 188.9 L434.4 191.7 L435.4 194.7 L436.4 197.9 L437.4 201.2 L438.4 204.6 L439.4 208.1 L440.4 211.5 L441.4 215.0 L442.4 218.5 L443.4 221.8 L444.4 225.2 L445.4 228.4 L446.4 231.5 L447.4 234.6 L448.4 237.5 L449.4 240.3 L450.4 243.0 L451.4 245.6 L452.4 248.1 L453.4 250.5 L454.4 252.8 L455.4 254.9 L456.4 257.0 L457.4 259.0 L458.4 260.8 L459.4 262.6 L460.4 264.3 L461.4 266.0 L462.4 267.5 L463.4 269.0 L464.4 270.4 L465.4 271.7 L466.4 272.9 L467.4 274.2 L468.4 275.3 L469.4 276.4 L470.4 277.4 L471.4 278.4 L472.4 279.4 L473.4 280.3 L474.4 281.2 L475.4 282.0 L476.4 282.8 L477.4 283.5 L478.4 284.2 L479.4 284.9 L480.4 285.6 L481.4 286.2 L482.4 286.8 L483.4 287.4 L484.4 288.0 L485.4 288.5 L486.4 289.0 L487.4 289.5 L488.4 290.0 L489.4 290.4 L490.4 290.9 L491.4 291.3 L492.4 291.7 L493.4 292.1 L494.4 292.5 L495.4 292.8 L496.4 293.2 L497.4 293.5 L498.4 293.8 L499.4 294.1 L500.4 294.4 L501.4 294.7 L502.4 295.0 L503.4 295.3 L504.4 295.5 L505.4 295.8 L506.4 296.0 L507.4 296.3 L508.4 296.5 L509.4 296.7 L510.4 296.9 L511.4 297.1 L512.4 297.3 L513.4 297.5 L514.4 297.7 L515.4 297.9 L516.4 298.1 L517.4 298.3" fill="none" stroke="#000" stroke-width="1.45" clip-path="url(#ec344)"/>
<rect x="344.4" y="165.7" width="173.20000000000005" height="135.5" fill="none" stroke="#000" stroke-width="1.1"/>
<rect x="344.0" y="301.2" width="0.8" height="3.0" fill="#000"/>
<text x="344.4" y="311.8" font-size="6.7" fill="#000" text-anchor="middle" >0.40</text>
<rect x="365.8" y="301.2" width="0.8" height="1.8" fill="#000"/>
<rect x="387.6" y="301.2" width="0.8" height="3.0" fill="#000"/>
<text x="388.0" y="311.8" font-size="6.7" fill="#000" text-anchor="middle" >0.45</text>
<rect x="409.2" y="301.2" width="0.8" height="1.8" fill="#000"/>
<rect x="430.8" y="301.2" width="0.8" height="3.0" fill="#000"/>
<text x="431.2" y="311.8" font-size="6.7" fill="#000" text-anchor="middle" >0.50</text>
<rect x="452.5" y="301.2" width="0.8" height="1.8" fill="#000"/>
<rect x="474.2" y="301.2" width="0.8" height="3.0" fill="#000"/>
<text x="474.6" y="311.8" font-size="6.7" fill="#000" text-anchor="middle" >0.55</text>
<rect x="495.7" y="301.2" width="0.8" height="1.8" fill="#000"/>
<rect x="517.2" y="301.2" width="0.8" height="3.0" fill="#000"/>
<text x="517.6" y="311.8" font-size="6.7" fill="#000" text-anchor="middle" >0.60</text>
<rect x="341.2" y="165.6" width="3.2" height="0.8" fill="#000"/>
<rect x="342.4" y="176.6" width="2" height="0.8" fill="#000"/>
<rect x="341.2" y="187.6" width="3.2" height="0.8" fill="#000"/>
<rect x="342.4" y="198.5" width="2" height="0.8" fill="#000"/>
<rect x="341.2" y="209.5" width="3.2" height="0.8" fill="#000"/>
<rect x="342.4" y="220.5" width="2" height="0.8" fill="#000"/>
<rect x="341.2" y="231.6" width="3.2" height="0.8" fill="#000"/>
<rect x="342.4" y="242.8" width="2" height="0.8" fill="#000"/>
<rect x="341.2" y="253.9" width="3.2" height="0.8" fill="#000"/>
<rect x="342.4" y="265.1" width="2" height="0.8" fill="#000"/>
<rect x="341.2" y="276.2" width="3.2" height="0.8" fill="#000"/>
<rect x="342.4" y="287.3" width="2" height="0.8" fill="#000"/>
<rect x="341.2" y="298.4" width="3.2" height="0.8" fill="#000"/>
<text x="432.5" y="322.3" font-size="8.4" text-anchor="middle">q<tspan font-size="5.2" dy="1.8">y</tspan><tspan dy="-1.8">(nm</tspan><tspan font-size="5.2" dy="-3.2">-1</tspan><tspan dy="3.2">)</tspan></text>
<text transform="translate(333.6 236) rotate(-90)" font-size="8.5" text-anchor="middle">Intensity (a.u.)</text>
<text x="346.2" y="173.8" font-size="7.0" fill="#000" text-anchor="start" >C12-Au NP Film</text>
<rect x="436.2" y="166.0" width="80.90000000000003" height="19.5" fill="#fff" stroke="#555" stroke-width="0.5"/>
<rect x="444.8" y="170.9" width="2.4" height="2.4" fill="none" stroke="#666" stroke-width="0.6"/>
<path d="M438.8 180.89999999999998 H452.59999999999997" stroke="#000" stroke-width="1.45"/>
<text x="454.4" y="174.5" font-size="7.1" fill="#000" text-anchor="start" >Experiment</text>
<text x="454.4" y="183.39999999999998" font-size="7.1" fill="#000" text-anchor="start" >Model Regression</text>
<clipPath id="ec540"><rect x="540.2" y="165.5" width="172.69999999999993" height="134.3"/></clipPath>
<g clip-path="url(#ec540)" fill="none" stroke="#ff4444" stroke-width="0.6">
<circle cx="541.3" cy="291.8" r="1.4"/>
<circle cx="545.7" cy="287.8" r="1.4"/>
<circle cx="549.4" cy="289.8" r="1.4"/>
<circle cx="553.1" cy="287.9" r="1.4"/>
<circle cx="557.6" cy="284.0" r="1.4"/>
<circle cx="560.6" cy="281.7" r="1.4"/>
<circle cx="565.0" cy="281.8" r="1.4"/>
<circle cx="569.0" cy="280.6" r="1.4"/>
<circle cx="572.3" cy="273.9" r="1.4"/>
<circle cx="577.4" cy="269.3" r="1.4"/>
<circle cx="581.2" cy="264.3" r="1.4"/>
<circle cx="584.4" cy="259.9" r="1.4"/>
<circle cx="588.9" cy="248.4" r="1.4"/>
<circle cx="593.2" cy="237.8" r="1.4"/>
<circle cx="596.4" cy="231.5" r="1.4"/>
<circle cx="601.1" cy="219.4" r="1.4"/>
<circle cx="604.4" cy="205.8" r="1.4"/>
<circle cx="608.8" cy="190.0" r="1.4"/>
<circle cx="612.2" cy="186.0" r="1.4"/>
<circle cx="617.1" cy="181.4" r="1.4"/>
<circle cx="621.0" cy="188.1" r="1.4"/>
<circle cx="624.1" cy="198.4" r="1.4"/>
<circle cx="628.0" cy="211.1" r="1.4"/>
<circle cx="632.5" cy="225.6" r="1.4"/>
<circle cx="635.8" cy="234.4" r="1.4"/>
<circle cx="640.1" cy="245.3" r="1.4"/>
<circle cx="644.7" cy="255.2" r="1.4"/>
<circle cx="648.2" cy="263.1" r="1.4"/>
<circle cx="652.5" cy="276.2" r="1.4"/>
<circle cx="655.6" cy="277.4" r="1.4"/>
<circle cx="660.5" cy="280.8" r="1.4"/>
<circle cx="664.5" cy="283.6" r="1.4"/>
<circle cx="667.9" cy="286.0" r="1.4"/>
<circle cx="671.5" cy="288.1" r="1.4"/>
<circle cx="675.6" cy="291.3" r="1.4"/>
<circle cx="680.3" cy="291.8" r="1.4"/>
<circle cx="684.5" cy="294.9" r="1.4"/>
<circle cx="687.7" cy="294.0" r="1.4"/>
<circle cx="691.9" cy="292.7" r="1.4"/>
<circle cx="696.1" cy="292.8" r="1.4"/>
<circle cx="700.2" cy="294.6" r="1.4"/>
<circle cx="704.3" cy="294.7" r="1.4"/>
<circle cx="707.2" cy="294.3" r="1.4"/>
<circle cx="712.2" cy="298.0" r="1.4"/>
</g>
<path d="M540.2 292.2 L541.2 292.0 L542.2 291.7 L543.2 291.4 L544.2 291.1 L545.2 290.8 L546.2 290.5 L547.2 290.2 L548.2 289.9 L549.2 289.5 L550.2 289.2 L551.2 288.8 L552.2 288.4 L553.2 288.0 L554.2 287.6 L555.2 287.1 L556.2 286.7 L557.2 286.2 L558.2 285.7 L559.2 285.2 L560.2 284.6 L561.2 284.1 L562.2 283.5 L563.2 282.9 L564.2 282.2 L565.2 281.5 L566.2 280.8 L567.2 280.1 L568.2 279.3 L569.2 278.5 L570.2 277.6 L571.2 276.7 L572.2 275.8 L573.2 274.8 L574.2 273.7 L575.2 272.6 L576.2 271.5 L577.2 270.3 L578.2 269.0 L579.2 267.7 L580.2 266.3 L581.2 264.8 L582.2 263.2 L583.2 261.6 L584.2 259.8 L585.2 258.0 L586.2 256.1 L587.2 254.1 L588.2 251.9 L589.2 249.7 L590.2 247.4 L591.2 244.9 L592.2 242.4 L593.2 239.7 L594.2 236.9 L595.2 234.0 L596.2 231.0 L597.2 227.9 L598.2 224.7 L599.2 221.4 L600.2 218.0 L601.2 214.7 L602.2 211.2 L603.2 207.8 L604.2 204.5 L605.2 201.2 L606.2 198.0 L607.2 195.0 L608.2 192.1 L609.2 189.6 L610.2 187.3 L611.2 185.3 L612.2 183.8 L613.2 182.6 L614.2 181.9 L615.2 181.6 L616.2 181.8 L617.2 182.4 L618.2 183.5 L619.2 185.0 L620.2 186.9 L621.2 189.1 L622.2 191.6 L623.2 194.4 L624.2 197.4 L625.2 200.5 L626.2 203.8 L627.2 207.2 L628.2 210.6 L629.2 214.0 L630.2 217.4 L631.2 220.7 L632.2 224.0 L633.2 227.2 L634.2 230.4 L635.2 233.4 L636.2 236.3 L637.2 239.1 L638.2 241.8 L639.2 244.4 L640.2 246.9 L641.2 249.3 L642.2 251.5 L643.2 253.6 L644.2 255.7 L645.2 257.6 L646.2 259.5 L647.2 261.2 L648.2 262.9 L649.2 264.5 L650.2 266.0 L651.2 267.4 L652.2 268.7 L653.2 270.0 L654.2 271.3 L655.2 272.4 L656.2 273.5 L657.2 274.6 L658.2 275.6 L659.2 276.5 L660.2 277.4 L661.2 278.3 L662.2 279.1 L663.2 279.9 L664.2 280.7 L665.2 281.4 L666.2 282.1 L667.2 282.7 L668.2 283.4 L669.2 284.0 L670.2 284.5 L671.2 285.1 L672.2 285.6 L673.2 286.1 L674.2 286.6 L675.2 287.1 L676.2 287.5 L677.2 287.9 L678.2 288.3 L679.2 288.7 L680.2 289.1 L681.2 289.5 L682.2 289.8 L683.2 290.1 L684.2 290.5 L685.2 290.8 L686.2 291.1 L687.2 291.4 L688.2 291.6 L689.2 291.9 L690.2 292.2 L691.2 292.4 L692.2 292.7 L693.2 292.9 L694.2 293.1 L695.2 293.3 L696.2 293.6 L697.2 293.8 L698.2 294.0 L699.2 294.1 L700.2 294.3 L701.2 294.5 L702.2 294.7 L703.2 294.8 L704.2 295.0 L705.2 295.2 L706.2 295.3 L707.2 295.5 L708.2 295.6 L709.2 295.8 L710.2 295.9 L711.2 296.0 L712.2 296.1" fill="none" stroke="#ff0000" stroke-width="1.45" clip-path="url(#ec540)"/>
<rect x="540.2" y="165.5" width="172.69999999999993" height="134.3" fill="none" stroke="#000" stroke-width="1.1"/>
<rect x="539.8" y="299.8" width="0.8" height="3.0" fill="#000"/>
<text x="540.2" y="310.6" font-size="6.7" fill="#000" text-anchor="middle" >0.40</text>
<rect x="568.5" y="299.8" width="0.8" height="1.8" fill="#000"/>
<rect x="597.1" y="299.8" width="0.8" height="3.0" fill="#000"/>
<text x="597.5" y="310.6" font-size="6.7" fill="#000" text-anchor="middle" >0.45</text>
<rect x="626.1" y="299.8" width="0.8" height="1.8" fill="#000"/>
<rect x="655.0" y="299.8" width="0.8" height="3.0" fill="#000"/>
<text x="655.4" y="310.6" font-size="6.7" fill="#000" text-anchor="middle" >0.50</text>
<rect x="683.6" y="299.8" width="0.8" height="1.8" fill="#000"/>
<rect x="712.3" y="299.8" width="0.8" height="3.0" fill="#000"/>
<text x="712.7" y="310.6" font-size="6.7" fill="#000" text-anchor="middle" >0.55</text>
<rect x="537.0" y="165.1" width="3.2" height="0.8" fill="#000"/>
<rect x="538.2" y="171.8" width="2" height="0.8" fill="#000"/>
<rect x="537.0" y="178.4" width="3.2" height="0.8" fill="#000"/>
<rect x="538.2" y="185.1" width="2" height="0.8" fill="#000"/>
<rect x="537.0" y="191.8" width="3.2" height="0.8" fill="#000"/>
<rect x="538.2" y="198.5" width="2" height="0.8" fill="#000"/>
<rect x="537.0" y="205.2" width="3.2" height="0.8" fill="#000"/>
<rect x="538.2" y="211.8" width="2" height="0.8" fill="#000"/>
<rect x="537.0" y="218.5" width="3.2" height="0.8" fill="#000"/>
<rect x="538.2" y="225.2" width="2" height="0.8" fill="#000"/>
<rect x="537.0" y="231.8" width="3.2" height="0.8" fill="#000"/>
<rect x="538.2" y="238.5" width="2" height="0.8" fill="#000"/>
<rect x="537.0" y="245.2" width="3.2" height="0.8" fill="#000"/>
<rect x="538.2" y="251.9" width="2" height="0.8" fill="#000"/>
<rect x="537.0" y="258.6" width="3.2" height="0.8" fill="#000"/>
<rect x="538.2" y="265.2" width="2" height="0.8" fill="#000"/>
<rect x="537.0" y="271.9" width="3.2" height="0.8" fill="#000"/>
<rect x="538.2" y="278.6" width="2" height="0.8" fill="#000"/>
<rect x="537.0" y="285.2" width="3.2" height="0.8" fill="#000"/>
<rect x="538.2" y="291.9" width="2" height="0.8" fill="#000"/>
<rect x="537.0" y="298.6" width="3.2" height="0.8" fill="#000"/>
<text x="628.0" y="319.8" font-size="8.4" text-anchor="middle">q<tspan font-size="5.2" dy="1.8">y</tspan><tspan dy="-1.8">(nm</tspan><tspan font-size="5.2" dy="-3.2">-1</tspan><tspan dy="3.2">)</tspan></text>
<text transform="translate(529.3 236) rotate(-90)" font-size="8.5" text-anchor="middle">Intensity (a.u.)</text>
<text x="542.0" y="172.7" font-size="7.0" fill="#ff0000" text-anchor="start" >C18-Au NP Film</text>
<rect x="629.6" y="165.8" width="82.79999999999995" height="19.6" fill="#fff" stroke="#555" stroke-width="0.5"/>
<circle cx="639.4" cy="172.0" r="1.4" fill="none" stroke="#ff4444" stroke-width="0.6"/>
<path d="M632.2 180.79999999999998 H646.0" stroke="#ff0000" stroke-width="1.45"/>
<text x="647.8000000000001" y="174.4" font-size="7.1" fill="#000" text-anchor="start" >Experiment</text>
<text x="647.8000000000001" y="183.29999999999998" font-size="7.1" fill="#000" text-anchor="start" >Model Regression</text>
<text x="320.8" y="165.2" font-size="15.2" fill="#000" text-anchor="start" >(e)</text>
</svg>
</body></html>
